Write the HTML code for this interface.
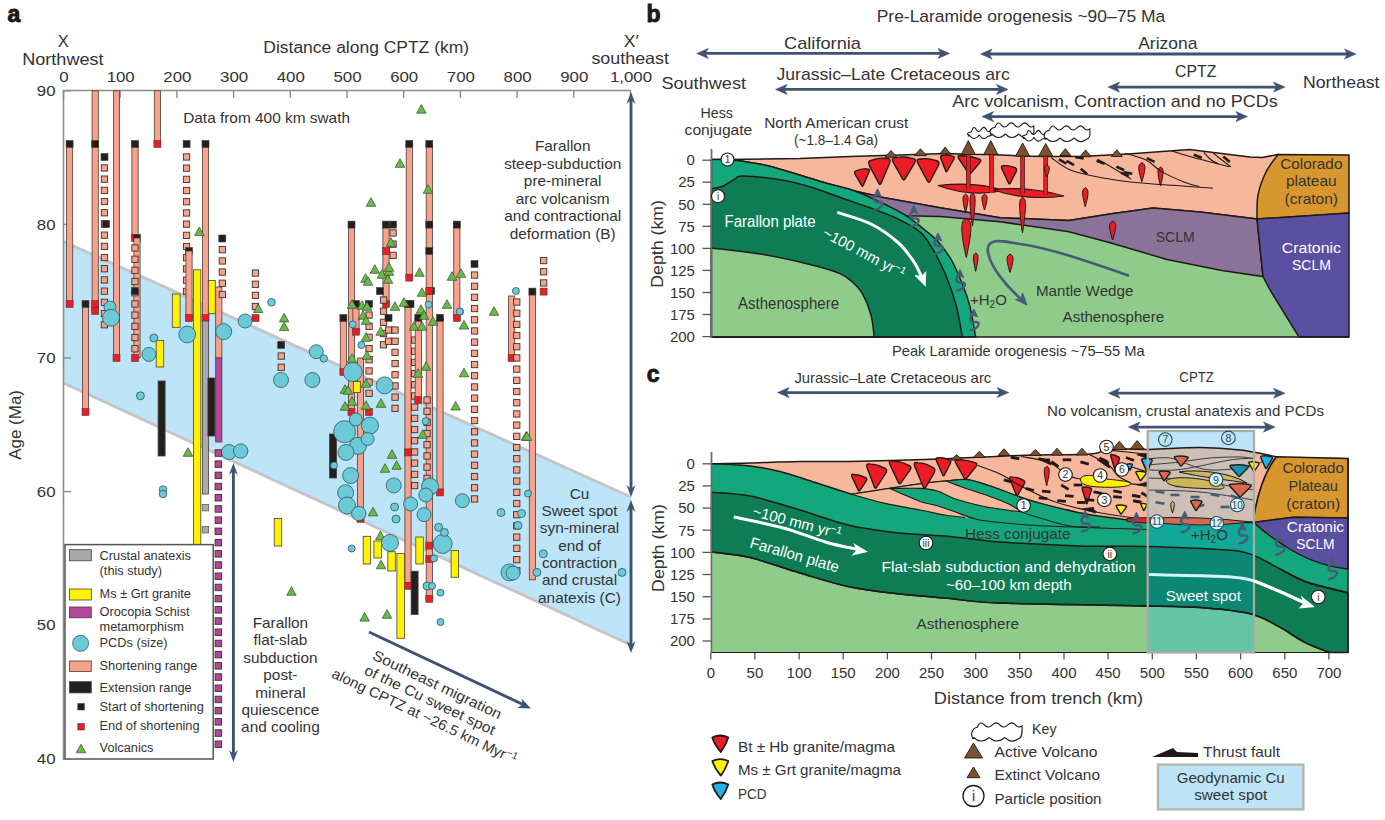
<!DOCTYPE html>
<html><head><meta charset="utf-8"><style>
html,body{margin:0;padding:0;background:#fff;width:1385px;height:820px;overflow:hidden}
svg{display:block}
text{font-family:"Liberation Sans", sans-serif}
</style></head><body>
<svg width="1385" height="820" viewBox="0 0 1385 820">
<rect width="1385" height="820" fill="#fff"/>
<text x="7.6" y="22.2" font-size="23" text-anchor="start" fill="#1a1a1a" font-weight="bold"  stroke="#1a1a1a" stroke-width="0.9">a</text>
<path d="M63.5,241.5 L631,497 L631,645 L63.5,383 Z" fill="#bde5f7"/>
<line x1="63.5" y1="241.5" x2="631" y2="497" stroke="#c3c6c8" stroke-width="3"/>
<line x1="63.5" y1="383" x2="631" y2="645" stroke="#c3c6c8" stroke-width="3"/>
<line x1="63.5" y1="90.5" x2="631" y2="90.5" stroke="#8c8c8c" stroke-width="1.6"/>
<line x1="63.5" y1="90" x2="63.5" y2="760" stroke="#8c8c8c" stroke-width="1.6"/>
<line x1="63.5" y1="90" x2="63.5" y2="98" stroke="#8c8c8c" stroke-width="1.4"/>
<text x="64.0" y="82.0" font-size="14.2" text-anchor="middle" fill="#333333" font-weight="normal" textLength="9.4" lengthAdjust="spacingAndGlyphs" >0</text>
<line x1="120.2" y1="90" x2="120.2" y2="98" stroke="#8c8c8c" stroke-width="1.4"/>
<text x="120.7" y="82.0" font-size="14.2" text-anchor="middle" fill="#333333" font-weight="normal" textLength="28.1" lengthAdjust="spacingAndGlyphs" >100</text>
<line x1="176.9" y1="90" x2="176.9" y2="98" stroke="#8c8c8c" stroke-width="1.4"/>
<text x="177.4" y="82.0" font-size="14.2" text-anchor="middle" fill="#333333" font-weight="normal" textLength="28.1" lengthAdjust="spacingAndGlyphs" >200</text>
<line x1="233.6" y1="90" x2="233.6" y2="98" stroke="#8c8c8c" stroke-width="1.4"/>
<text x="234.1" y="82.0" font-size="14.2" text-anchor="middle" fill="#333333" font-weight="normal" textLength="28.1" lengthAdjust="spacingAndGlyphs" >300</text>
<line x1="290.3" y1="90" x2="290.3" y2="98" stroke="#8c8c8c" stroke-width="1.4"/>
<text x="290.8" y="82.0" font-size="14.2" text-anchor="middle" fill="#333333" font-weight="normal" textLength="28.1" lengthAdjust="spacingAndGlyphs" >400</text>
<line x1="347.0" y1="90" x2="347.0" y2="98" stroke="#8c8c8c" stroke-width="1.4"/>
<text x="347.5" y="82.0" font-size="14.2" text-anchor="middle" fill="#333333" font-weight="normal" textLength="28.1" lengthAdjust="spacingAndGlyphs" >500</text>
<line x1="403.7" y1="90" x2="403.7" y2="98" stroke="#8c8c8c" stroke-width="1.4"/>
<text x="404.2" y="82.0" font-size="14.2" text-anchor="middle" fill="#333333" font-weight="normal" textLength="28.1" lengthAdjust="spacingAndGlyphs" >600</text>
<line x1="460.4" y1="90" x2="460.4" y2="98" stroke="#8c8c8c" stroke-width="1.4"/>
<text x="460.9" y="82.0" font-size="14.2" text-anchor="middle" fill="#333333" font-weight="normal" textLength="28.1" lengthAdjust="spacingAndGlyphs" >700</text>
<line x1="517.1" y1="90" x2="517.1" y2="98" stroke="#8c8c8c" stroke-width="1.4"/>
<text x="517.6" y="82.0" font-size="14.2" text-anchor="middle" fill="#333333" font-weight="normal" textLength="28.1" lengthAdjust="spacingAndGlyphs" >800</text>
<line x1="573.8" y1="90" x2="573.8" y2="98" stroke="#8c8c8c" stroke-width="1.4"/>
<text x="574.3" y="82.0" font-size="14.2" text-anchor="middle" fill="#333333" font-weight="normal" textLength="28.1" lengthAdjust="spacingAndGlyphs" >900</text>
<line x1="630.5" y1="90" x2="630.5" y2="98" stroke="#8c8c8c" stroke-width="1.4"/>
<text x="631.0" y="82.0" font-size="14.2" text-anchor="middle" fill="#333333" font-weight="normal" textLength="42.2" lengthAdjust="spacingAndGlyphs" >1,000</text>
<line x1="63" y1="90.8" x2="71" y2="90.8" stroke="#8c8c8c" stroke-width="1.4"/>
<text x="55.5" y="96.0" font-size="14.2" text-anchor="end" fill="#333333" font-weight="normal" textLength="18.7" lengthAdjust="spacingAndGlyphs" >90</text>
<line x1="63" y1="224.4" x2="71" y2="224.4" stroke="#8c8c8c" stroke-width="1.4"/>
<text x="55.5" y="229.6" font-size="14.2" text-anchor="end" fill="#333333" font-weight="normal" textLength="18.7" lengthAdjust="spacingAndGlyphs" >80</text>
<line x1="63" y1="358.0" x2="71" y2="358.0" stroke="#8c8c8c" stroke-width="1.4"/>
<text x="55.5" y="363.2" font-size="14.2" text-anchor="end" fill="#333333" font-weight="normal" textLength="18.7" lengthAdjust="spacingAndGlyphs" >70</text>
<line x1="63" y1="491.6" x2="71" y2="491.6" stroke="#8c8c8c" stroke-width="1.4"/>
<text x="55.5" y="496.8" font-size="14.2" text-anchor="end" fill="#333333" font-weight="normal" textLength="18.7" lengthAdjust="spacingAndGlyphs" >60</text>
<line x1="63" y1="625.2" x2="71" y2="625.2" stroke="#8c8c8c" stroke-width="1.4"/>
<text x="55.5" y="630.4" font-size="14.2" text-anchor="end" fill="#333333" font-weight="normal" textLength="18.7" lengthAdjust="spacingAndGlyphs" >50</text>
<line x1="63" y1="758.8" x2="71" y2="758.8" stroke="#8c8c8c" stroke-width="1.4"/>
<text x="55.5" y="764.0" font-size="14.2" text-anchor="end" fill="#333333" font-weight="normal" textLength="18.7" lengthAdjust="spacingAndGlyphs" >40</text>
<text x="21.5" y="424.9" font-size="16" text-anchor="middle" fill="#333333" font-weight="normal" textLength="69.7" lengthAdjust="spacingAndGlyphs" transform="rotate(-90 21.5 424.9)">Age (Ma)</text>
<text x="63.2" y="46.8" font-size="16.5" text-anchor="middle" fill="#333333" font-weight="normal"  >X</text>
<text x="62.9" y="65.0" font-size="16.5" text-anchor="middle" fill="#333333" font-weight="normal" textLength="81.4" lengthAdjust="spacingAndGlyphs" >Northwest</text>
<text x="366.2" y="52.7" font-size="17.3" text-anchor="middle" fill="#333333" font-weight="normal" textLength="205.7" lengthAdjust="spacingAndGlyphs" >Distance along CPTZ (km)</text>
<text x="631.2" y="46.6" font-size="16.5" text-anchor="middle" fill="#333333" font-weight="normal" textLength="15.0" lengthAdjust="spacingAndGlyphs" >X′</text>
<text x="630.2" y="63.6" font-size="16.5" text-anchor="middle" fill="#333333" font-weight="normal" textLength="77.6" lengthAdjust="spacingAndGlyphs" >southeast</text>
<text x="183.2" y="122.7" font-size="14.2" text-anchor="start" fill="#333333" font-weight="normal" textLength="166.8" lengthAdjust="spacingAndGlyphs" >Data from 400 km swath</text>
<rect x="66.5" y="144.0" width="6.2" height="160.0" fill="#f6a28c" stroke="#4a3d3a" stroke-width="0.8"/>
<rect x="66.1" y="140.5" width="7" height="7" fill="#231f20" stroke="#4a3d3a" stroke-width="0.6"/>
<rect x="66.1" y="300.5" width="7" height="7" fill="#ed1c24" stroke="#4a3d3a" stroke-width="0.6"/>
<rect x="82.4" y="304.0" width="6.2" height="108.0" fill="#f6a28c" stroke="#4a3d3a" stroke-width="0.8"/>
<rect x="82.0" y="300.5" width="7" height="7" fill="#231f20" stroke="#4a3d3a" stroke-width="0.6"/>
<rect x="82.0" y="408.5" width="7" height="7" fill="#ed1c24" stroke="#4a3d3a" stroke-width="0.6"/>
<rect x="92.1" y="90.8" width="6.2" height="220.2" fill="#f6a28c" stroke="#4a3d3a" stroke-width="0.8"/>
<rect x="91.7" y="140.5" width="7" height="7" fill="#231f20" stroke="#4a3d3a" stroke-width="0.6"/>
<rect x="91.7" y="300.5" width="7" height="7" fill="#ed1c24" stroke="#4a3d3a" stroke-width="0.6"/>
<rect x="91.7" y="307.5" width="7" height="7" fill="#ed1c24" stroke="#4a3d3a" stroke-width="0.6"/>
<rect x="101.3" y="164.8" width="6.3" height="6.3" fill="#f6a28c" stroke="#3a2f2c" stroke-width="0.9"/>
<rect x="101.3" y="176.0" width="6.3" height="6.3" fill="#f6a28c" stroke="#3a2f2c" stroke-width="0.9"/>
<rect x="101.3" y="187.2" width="6.3" height="6.3" fill="#f6a28c" stroke="#3a2f2c" stroke-width="0.9"/>
<rect x="101.3" y="198.4" width="6.3" height="6.3" fill="#f6a28c" stroke="#3a2f2c" stroke-width="0.9"/>
<rect x="101.3" y="209.6" width="6.3" height="6.3" fill="#f6a28c" stroke="#3a2f2c" stroke-width="0.9"/>
<rect x="101.3" y="220.8" width="6.3" height="6.3" fill="#f6a28c" stroke="#3a2f2c" stroke-width="0.9"/>
<rect x="101.3" y="232.0" width="6.3" height="6.3" fill="#f6a28c" stroke="#3a2f2c" stroke-width="0.9"/>
<rect x="101.3" y="243.2" width="6.3" height="6.3" fill="#f6a28c" stroke="#3a2f2c" stroke-width="0.9"/>
<rect x="101.3" y="254.4" width="6.3" height="6.3" fill="#f6a28c" stroke="#3a2f2c" stroke-width="0.9"/>
<rect x="101.3" y="265.6" width="6.3" height="6.3" fill="#f6a28c" stroke="#3a2f2c" stroke-width="0.9"/>
<rect x="101.3" y="276.8" width="6.3" height="6.3" fill="#f6a28c" stroke="#3a2f2c" stroke-width="0.9"/>
<rect x="101.3" y="288.0" width="6.3" height="6.3" fill="#f6a28c" stroke="#3a2f2c" stroke-width="0.9"/>
<rect x="101.3" y="299.2" width="6.3" height="6.3" fill="#f6a28c" stroke="#3a2f2c" stroke-width="0.9"/>
<rect x="101.3" y="310.4" width="6.3" height="6.3" fill="#f6a28c" stroke="#3a2f2c" stroke-width="0.9"/>
<rect x="101.3" y="321.6" width="6.3" height="6.3" fill="#f6a28c" stroke="#3a2f2c" stroke-width="0.9"/>
<rect x="101.0" y="153.5" width="7" height="7" fill="#231f20" stroke="#4a3d3a" stroke-width="0.6"/>
<rect x="102.5" y="220.5" width="7" height="7" fill="#231f20" stroke="#4a3d3a" stroke-width="0.6"/>
<rect x="113.4" y="90.8" width="6.2" height="267.2" fill="#f6a28c" stroke="#4a3d3a" stroke-width="0.8"/>
<rect x="113.0" y="354.5" width="7" height="7" fill="#ed1c24" stroke="#4a3d3a" stroke-width="0.6"/>
<rect x="131.9" y="144.0" width="6.2" height="94.0" fill="#f6a28c" stroke="#4a3d3a" stroke-width="0.8"/>
<rect x="131.5" y="140.5" width="7" height="7" fill="#231f20" stroke="#4a3d3a" stroke-width="0.6"/>
<rect x="131.5" y="234.5" width="7" height="7" fill="#ed1c24" stroke="#4a3d3a" stroke-width="0.6"/>
<rect x="133.5" y="234.5" width="7" height="7" fill="#231f20" stroke="#4a3d3a" stroke-width="0.6"/>
<rect x="133.9" y="238.0" width="6.2" height="120.0" fill="#f6a28c" stroke="#4a3d3a" stroke-width="0.8"/>
<rect x="131.8" y="244.8" width="6.3" height="6.3" fill="#f6a28c" stroke="#3a2f2c" stroke-width="0.9"/>
<rect x="131.8" y="256.1" width="6.3" height="6.3" fill="#f6a28c" stroke="#3a2f2c" stroke-width="0.9"/>
<rect x="131.8" y="267.2" width="6.3" height="6.3" fill="#f6a28c" stroke="#3a2f2c" stroke-width="0.9"/>
<rect x="131.8" y="278.4" width="6.3" height="6.3" fill="#f6a28c" stroke="#3a2f2c" stroke-width="0.9"/>
<rect x="131.8" y="289.6" width="6.3" height="6.3" fill="#f6a28c" stroke="#3a2f2c" stroke-width="0.9"/>
<rect x="131.8" y="300.8" width="6.3" height="6.3" fill="#f6a28c" stroke="#3a2f2c" stroke-width="0.9"/>
<rect x="131.8" y="312.0" width="6.3" height="6.3" fill="#f6a28c" stroke="#3a2f2c" stroke-width="0.9"/>
<rect x="131.8" y="323.2" width="6.3" height="6.3" fill="#f6a28c" stroke="#3a2f2c" stroke-width="0.9"/>
<rect x="131.8" y="334.4" width="6.3" height="6.3" fill="#f6a28c" stroke="#3a2f2c" stroke-width="0.9"/>
<rect x="131.8" y="345.6" width="6.3" height="6.3" fill="#f6a28c" stroke="#3a2f2c" stroke-width="0.9"/>
<rect x="131.5" y="287.5" width="7" height="7" fill="#231f20" stroke="#4a3d3a" stroke-width="0.6"/>
<rect x="131.5" y="354.5" width="7" height="7" fill="#ed1c24" stroke="#4a3d3a" stroke-width="0.6"/>
<rect x="154.3" y="90.8" width="6.2" height="53.2" fill="#f6a28c" stroke="#4a3d3a" stroke-width="0.8"/>
<rect x="153.9" y="140.5" width="7" height="7" fill="#ed1c24" stroke="#4a3d3a" stroke-width="0.6"/>
<rect x="183.4" y="153.8" width="6.3" height="6.3" fill="#f6a28c" stroke="#3a2f2c" stroke-width="0.9"/>
<rect x="183.4" y="165.0" width="6.3" height="6.3" fill="#f6a28c" stroke="#3a2f2c" stroke-width="0.9"/>
<rect x="183.4" y="176.2" width="6.3" height="6.3" fill="#f6a28c" stroke="#3a2f2c" stroke-width="0.9"/>
<rect x="183.4" y="187.4" width="6.3" height="6.3" fill="#f6a28c" stroke="#3a2f2c" stroke-width="0.9"/>
<rect x="183.4" y="198.6" width="6.3" height="6.3" fill="#f6a28c" stroke="#3a2f2c" stroke-width="0.9"/>
<rect x="183.4" y="209.8" width="6.3" height="6.3" fill="#f6a28c" stroke="#3a2f2c" stroke-width="0.9"/>
<rect x="183.4" y="221.0" width="6.3" height="6.3" fill="#f6a28c" stroke="#3a2f2c" stroke-width="0.9"/>
<rect x="183.4" y="232.2" width="6.3" height="6.3" fill="#f6a28c" stroke="#3a2f2c" stroke-width="0.9"/>
<rect x="183.4" y="243.4" width="6.3" height="6.3" fill="#f6a28c" stroke="#3a2f2c" stroke-width="0.9"/>
<rect x="183.4" y="254.6" width="6.3" height="6.3" fill="#f6a28c" stroke="#3a2f2c" stroke-width="0.9"/>
<rect x="183.4" y="265.8" width="6.3" height="6.3" fill="#f6a28c" stroke="#3a2f2c" stroke-width="0.9"/>
<rect x="183.4" y="277.0" width="6.3" height="6.3" fill="#f6a28c" stroke="#3a2f2c" stroke-width="0.9"/>
<rect x="183.4" y="288.2" width="6.3" height="6.3" fill="#f6a28c" stroke="#3a2f2c" stroke-width="0.9"/>
<rect x="183.1" y="140.5" width="7" height="7" fill="#231f20" stroke="#4a3d3a" stroke-width="0.6"/>
<rect x="185.5" y="247.5" width="7" height="7" fill="#231f20" stroke="#4a3d3a" stroke-width="0.6"/>
<rect x="185.9" y="251.0" width="6.2" height="67.0" fill="#f6a28c" stroke="#4a3d3a" stroke-width="0.8"/>
<rect x="185.5" y="314.5" width="7" height="7" fill="#ed1c24" stroke="#4a3d3a" stroke-width="0.6"/>
<rect x="202.4" y="143.8" width="6.2" height="174.2" fill="#f6a28c" stroke="#4a3d3a" stroke-width="0.8"/>
<rect x="202.0" y="140.5" width="7" height="7" fill="#231f20" stroke="#4a3d3a" stroke-width="0.6"/>
<rect x="202.0" y="314.5" width="7" height="7" fill="#ed1c24" stroke="#4a3d3a" stroke-width="0.6"/>
<rect x="202.4" y="321.0" width="6.2" height="173.0" fill="#a7a9ac" stroke="#4a3d3a" stroke-width="0.8"/>
<rect x="202.2" y="504.4" width="6.5" height="6.5" fill="#a7a9ac" stroke="#4a3d3a" stroke-width="0.6"/>
<rect x="202.2" y="526.5" width="6.5" height="6.5" fill="#a7a9ac" stroke="#4a3d3a" stroke-width="0.6"/>
<rect x="215.7" y="287.0" width="6.2" height="71.0" fill="#f6a28c" stroke="#4a3d3a" stroke-width="0.8"/>
<rect x="215.7" y="358.0" width="6.2" height="84.0" fill="#b5479a" stroke="#4a3d3a" stroke-width="0.8"/>
<rect x="219.2" y="246.5" width="6.3" height="6.3" fill="#f6a28c" stroke="#3a2f2c" stroke-width="0.9"/>
<rect x="219.2" y="257.8" width="6.3" height="6.3" fill="#f6a28c" stroke="#3a2f2c" stroke-width="0.9"/>
<rect x="219.2" y="268.9" width="6.3" height="6.3" fill="#f6a28c" stroke="#3a2f2c" stroke-width="0.9"/>
<rect x="219.2" y="280.1" width="6.3" height="6.3" fill="#f6a28c" stroke="#3a2f2c" stroke-width="0.9"/>
<rect x="219.2" y="291.3" width="6.3" height="6.3" fill="#f6a28c" stroke="#3a2f2c" stroke-width="0.9"/>
<rect x="218.8" y="235.0" width="7" height="7" fill="#231f20" stroke="#4a3d3a" stroke-width="0.6"/>
<rect x="215.1" y="449.8" width="6.5" height="6.5" fill="#b5479a" stroke="#3a2f2c" stroke-width="0.9"/>
<rect x="215.1" y="460.9" width="6.5" height="6.5" fill="#b5479a" stroke="#3a2f2c" stroke-width="0.9"/>
<rect x="215.1" y="472.1" width="6.5" height="6.5" fill="#b5479a" stroke="#3a2f2c" stroke-width="0.9"/>
<rect x="215.1" y="483.3" width="6.5" height="6.5" fill="#b5479a" stroke="#3a2f2c" stroke-width="0.9"/>
<rect x="215.1" y="494.5" width="6.5" height="6.5" fill="#b5479a" stroke="#3a2f2c" stroke-width="0.9"/>
<rect x="215.1" y="505.7" width="6.5" height="6.5" fill="#b5479a" stroke="#3a2f2c" stroke-width="0.9"/>
<rect x="215.1" y="516.9" width="6.5" height="6.5" fill="#b5479a" stroke="#3a2f2c" stroke-width="0.9"/>
<rect x="215.1" y="528.1" width="6.5" height="6.5" fill="#b5479a" stroke="#3a2f2c" stroke-width="0.9"/>
<rect x="215.1" y="539.4" width="6.5" height="6.5" fill="#b5479a" stroke="#3a2f2c" stroke-width="0.9"/>
<rect x="215.1" y="550.6" width="6.5" height="6.5" fill="#b5479a" stroke="#3a2f2c" stroke-width="0.9"/>
<rect x="215.1" y="561.8" width="6.5" height="6.5" fill="#b5479a" stroke="#3a2f2c" stroke-width="0.9"/>
<rect x="215.1" y="573.0" width="6.5" height="6.5" fill="#b5479a" stroke="#3a2f2c" stroke-width="0.9"/>
<rect x="215.1" y="584.2" width="6.5" height="6.5" fill="#b5479a" stroke="#3a2f2c" stroke-width="0.9"/>
<rect x="215.1" y="595.4" width="6.5" height="6.5" fill="#b5479a" stroke="#3a2f2c" stroke-width="0.9"/>
<rect x="215.1" y="606.6" width="6.5" height="6.5" fill="#b5479a" stroke="#3a2f2c" stroke-width="0.9"/>
<rect x="215.1" y="617.8" width="6.5" height="6.5" fill="#b5479a" stroke="#3a2f2c" stroke-width="0.9"/>
<rect x="215.1" y="629.0" width="6.5" height="6.5" fill="#b5479a" stroke="#3a2f2c" stroke-width="0.9"/>
<rect x="215.1" y="640.2" width="6.5" height="6.5" fill="#b5479a" stroke="#3a2f2c" stroke-width="0.9"/>
<rect x="215.1" y="651.4" width="6.5" height="6.5" fill="#b5479a" stroke="#3a2f2c" stroke-width="0.9"/>
<rect x="215.1" y="662.6" width="6.5" height="6.5" fill="#b5479a" stroke="#3a2f2c" stroke-width="0.9"/>
<rect x="215.1" y="673.8" width="6.5" height="6.5" fill="#b5479a" stroke="#3a2f2c" stroke-width="0.9"/>
<rect x="215.1" y="685.0" width="6.5" height="6.5" fill="#b5479a" stroke="#3a2f2c" stroke-width="0.9"/>
<rect x="215.1" y="696.2" width="6.5" height="6.5" fill="#b5479a" stroke="#3a2f2c" stroke-width="0.9"/>
<rect x="215.1" y="707.4" width="6.5" height="6.5" fill="#b5479a" stroke="#3a2f2c" stroke-width="0.9"/>
<rect x="215.1" y="718.6" width="6.5" height="6.5" fill="#b5479a" stroke="#3a2f2c" stroke-width="0.9"/>
<rect x="215.1" y="729.8" width="6.5" height="6.5" fill="#b5479a" stroke="#3a2f2c" stroke-width="0.9"/>
<rect x="215.1" y="741.0" width="6.5" height="6.5" fill="#b5479a" stroke="#3a2f2c" stroke-width="0.9"/>
<rect x="193.4" y="269.8" width="7.4" height="275.2" fill="#fff200" stroke="#4a3d3a" stroke-width="0.8"/>
<rect x="208.3" y="280.5" width="7" height="33.2" fill="#fff200" stroke="#4a3d3a" stroke-width="0.8"/>
<rect x="207.9" y="378.0" width="7" height="58.0" fill="#231f20" stroke="#4a3d3a" stroke-width="0.8"/>
<rect x="172.3" y="294.0" width="7.8" height="33.3" fill="#fff200" stroke="#4a3d3a" stroke-width="0.8"/>
<rect x="156.2" y="340.5" width="7.5" height="26.5" fill="#fff200" stroke="#4a3d3a" stroke-width="0.8"/>
<rect x="158.1" y="381.0" width="7" height="75.0" fill="#231f20" stroke="#4a3d3a" stroke-width="0.8"/>
<rect x="274.2" y="518.5" width="7.5" height="27.5" fill="#fff200" stroke="#4a3d3a" stroke-width="0.8"/>
<rect x="252.3" y="269.9" width="6.3" height="6.3" fill="#f6a28c" stroke="#3a2f2c" stroke-width="0.9"/>
<rect x="252.3" y="281.1" width="6.3" height="6.3" fill="#f6a28c" stroke="#3a2f2c" stroke-width="0.9"/>
<rect x="252.3" y="292.2" width="6.3" height="6.3" fill="#f6a28c" stroke="#3a2f2c" stroke-width="0.9"/>
<rect x="252.3" y="303.4" width="6.3" height="6.3" fill="#f6a28c" stroke="#3a2f2c" stroke-width="0.9"/>
<rect x="252.0" y="314.5" width="7" height="7" fill="#ed1c24" stroke="#4a3d3a" stroke-width="0.6"/>
<rect x="277.7" y="341.4" width="7" height="7" fill="#231f20" stroke="#4a3d3a" stroke-width="0.6"/>
<rect x="278.1" y="352.9" width="6.3" height="6.3" fill="#f6a28c" stroke="#3a2f2c" stroke-width="0.9"/>
<rect x="278.1" y="364.1" width="6.3" height="6.3" fill="#f6a28c" stroke="#3a2f2c" stroke-width="0.9"/>
<circle cx="110.0" cy="307.0" r="6" fill="#6ccad8" stroke="#2c5560" stroke-width="0.8"/>
<circle cx="111.0" cy="317.8" r="8.5" fill="#6ccad8" stroke="#2c5560" stroke-width="0.8"/>
<circle cx="153.8" cy="338.0" r="4" fill="#6ccad8" stroke="#2c5560" stroke-width="0.8"/>
<circle cx="149.0" cy="354.4" r="7" fill="#6ccad8" stroke="#2c5560" stroke-width="0.8"/>
<circle cx="187.2" cy="334.5" r="8.4" fill="#6ccad8" stroke="#2c5560" stroke-width="0.8"/>
<circle cx="223.7" cy="331.6" r="8" fill="#6ccad8" stroke="#2c5560" stroke-width="0.8"/>
<circle cx="245.1" cy="321.0" r="7" fill="#6ccad8" stroke="#2c5560" stroke-width="0.8"/>
<circle cx="271.5" cy="302.3" r="3.8" fill="#6ccad8" stroke="#2c5560" stroke-width="0.8"/>
<circle cx="316.3" cy="351.7" r="7" fill="#6ccad8" stroke="#2c5560" stroke-width="0.8"/>
<circle cx="323.8" cy="358.5" r="3.7" fill="#6ccad8" stroke="#2c5560" stroke-width="0.8"/>
<circle cx="140.4" cy="395.8" r="4" fill="#6ccad8" stroke="#2c5560" stroke-width="0.8"/>
<circle cx="229.0" cy="452.0" r="7.5" fill="#6ccad8" stroke="#2c5560" stroke-width="0.8"/>
<circle cx="240.7" cy="451.0" r="7.2" fill="#6ccad8" stroke="#2c5560" stroke-width="0.8"/>
<circle cx="163.0" cy="489.5" r="3.8" fill="#6ccad8" stroke="#2c5560" stroke-width="0.8"/>
<circle cx="163.0" cy="494.0" r="3.8" fill="#6ccad8" stroke="#2c5560" stroke-width="0.8"/>
<circle cx="281.0" cy="380.0" r="7.5" fill="#6ccad8" stroke="#2c5560" stroke-width="0.8"/>
<circle cx="312.4" cy="380.0" r="7.5" fill="#6ccad8" stroke="#2c5560" stroke-width="0.8"/>
<path d="M199.3,227.0 L204.1,235.6 L194.6,235.6 Z" fill="#6ab94a" stroke="#2f4f2a" stroke-width="0.7"/>
<path d="M258.2,303.9 L262.9,312.5 L253.4,312.5 Z" fill="#6ab94a" stroke="#2f4f2a" stroke-width="0.7"/>
<path d="M284.1,313.3 L288.9,321.9 L279.4,321.9 Z" fill="#6ab94a" stroke="#2f4f2a" stroke-width="0.7"/>
<path d="M284.1,322.0 L288.9,330.6 L279.4,330.6 Z" fill="#6ab94a" stroke="#2f4f2a" stroke-width="0.7"/>
<path d="M188.0,447.7 L192.8,456.3 L183.2,456.3 Z" fill="#6ab94a" stroke="#2f4f2a" stroke-width="0.7"/>
<path d="M291.5,586.7 L296.2,595.3 L286.8,595.3 Z" fill="#6ab94a" stroke="#2f4f2a" stroke-width="0.7"/>
<rect x="348.4" y="224.6" width="6.2" height="187.4" fill="#f6a28c" stroke="#4a3d3a" stroke-width="0.8"/>
<rect x="348.0" y="221.1" width="7" height="7" fill="#231f20" stroke="#4a3d3a" stroke-width="0.6"/>
<rect x="348.0" y="408.5" width="7" height="7" fill="#ed1c24" stroke="#4a3d3a" stroke-width="0.6"/>
<rect x="340.3" y="318.0" width="6.2" height="54.0" fill="#f6a28c" stroke="#4a3d3a" stroke-width="0.8"/>
<rect x="339.9" y="314.5" width="7" height="7" fill="#231f20" stroke="#4a3d3a" stroke-width="0.6"/>
<rect x="339.9" y="368.5" width="7" height="7" fill="#ed1c24" stroke="#4a3d3a" stroke-width="0.6"/>
<rect x="357.4" y="358.0" width="6.2" height="160.8" fill="#f6a28c" stroke="#4a3d3a" stroke-width="0.8"/>
<rect x="357.0" y="515.3" width="7" height="7" fill="#ed1c24" stroke="#4a3d3a" stroke-width="0.6"/>
<rect x="352.9" y="304.0" width="6.2" height="27.7" fill="#f6a28c" stroke="#4a3d3a" stroke-width="0.8"/>
<rect x="352.5" y="300.5" width="7" height="7" fill="#231f20" stroke="#4a3d3a" stroke-width="0.6"/>
<rect x="352.5" y="328.2" width="7" height="7" fill="#ed1c24" stroke="#4a3d3a" stroke-width="0.6"/>
<rect x="382.9" y="224.6" width="6.2" height="79.4" fill="#f6a28c" stroke="#4a3d3a" stroke-width="0.8"/>
<rect x="382.5" y="221.1" width="7" height="7" fill="#231f20" stroke="#4a3d3a" stroke-width="0.6"/>
<rect x="382.5" y="247.5" width="7" height="7" fill="#ed1c24" stroke="#4a3d3a" stroke-width="0.6"/>
<rect x="382.5" y="300.5" width="7" height="7" fill="#ed1c24" stroke="#4a3d3a" stroke-width="0.6"/>
<rect x="389.9" y="229.8" width="6.3" height="6.3" fill="#f6a28c" stroke="#3a2f2c" stroke-width="0.9"/>
<rect x="389.9" y="241.0" width="6.3" height="6.3" fill="#f6a28c" stroke="#3a2f2c" stroke-width="0.9"/>
<rect x="389.9" y="252.2" width="6.3" height="6.3" fill="#f6a28c" stroke="#3a2f2c" stroke-width="0.9"/>
<rect x="389.5" y="221.1" width="7" height="7" fill="#231f20" stroke="#4a3d3a" stroke-width="0.6"/>
<rect x="365.9" y="311.9" width="6.3" height="6.3" fill="#f6a28c" stroke="#3a2f2c" stroke-width="0.9"/>
<rect x="365.9" y="323.1" width="6.3" height="6.3" fill="#f6a28c" stroke="#3a2f2c" stroke-width="0.9"/>
<rect x="365.9" y="334.2" width="6.3" height="6.3" fill="#f6a28c" stroke="#3a2f2c" stroke-width="0.9"/>
<rect x="365.9" y="345.4" width="6.3" height="6.3" fill="#f6a28c" stroke="#3a2f2c" stroke-width="0.9"/>
<rect x="365.9" y="356.6" width="6.3" height="6.3" fill="#f6a28c" stroke="#3a2f2c" stroke-width="0.9"/>
<rect x="365.9" y="367.8" width="6.3" height="6.3" fill="#f6a28c" stroke="#3a2f2c" stroke-width="0.9"/>
<rect x="365.9" y="379.0" width="6.3" height="6.3" fill="#f6a28c" stroke="#3a2f2c" stroke-width="0.9"/>
<rect x="365.9" y="390.2" width="6.3" height="6.3" fill="#f6a28c" stroke="#3a2f2c" stroke-width="0.9"/>
<rect x="365.5" y="300.5" width="7" height="7" fill="#231f20" stroke="#4a3d3a" stroke-width="0.6"/>
<rect x="365.5" y="408.5" width="7" height="7" fill="#ed1c24" stroke="#4a3d3a" stroke-width="0.6"/>
<rect x="376.5" y="287.5" width="7" height="7" fill="#231f20" stroke="#4a3d3a" stroke-width="0.6"/>
<rect x="380.4" y="296.9" width="6.3" height="6.3" fill="#f6a28c" stroke="#3a2f2c" stroke-width="0.9"/>
<rect x="380.4" y="308.1" width="6.3" height="6.3" fill="#f6a28c" stroke="#3a2f2c" stroke-width="0.9"/>
<rect x="380.4" y="319.2" width="6.3" height="6.3" fill="#f6a28c" stroke="#3a2f2c" stroke-width="0.9"/>
<rect x="380.4" y="330.4" width="6.3" height="6.3" fill="#f6a28c" stroke="#3a2f2c" stroke-width="0.9"/>
<rect x="380.4" y="341.6" width="6.3" height="6.3" fill="#f6a28c" stroke="#3a2f2c" stroke-width="0.9"/>
<rect x="385.4" y="326.9" width="6.3" height="6.3" fill="#f6a28c" stroke="#3a2f2c" stroke-width="0.9"/>
<rect x="385.4" y="338.1" width="6.3" height="6.3" fill="#f6a28c" stroke="#3a2f2c" stroke-width="0.9"/>
<rect x="385.0" y="314.3" width="7" height="7" fill="#231f20" stroke="#4a3d3a" stroke-width="0.6"/>
<rect x="391.9" y="326.9" width="6.3" height="6.3" fill="#f6a28c" stroke="#3a2f2c" stroke-width="0.9"/>
<rect x="391.9" y="338.1" width="6.3" height="6.3" fill="#f6a28c" stroke="#3a2f2c" stroke-width="0.9"/>
<rect x="391.9" y="349.2" width="6.3" height="6.3" fill="#f6a28c" stroke="#3a2f2c" stroke-width="0.9"/>
<rect x="391.9" y="360.4" width="6.3" height="6.3" fill="#f6a28c" stroke="#3a2f2c" stroke-width="0.9"/>
<rect x="391.9" y="371.6" width="6.3" height="6.3" fill="#f6a28c" stroke="#3a2f2c" stroke-width="0.9"/>
<rect x="391.9" y="382.8" width="6.3" height="6.3" fill="#f6a28c" stroke="#3a2f2c" stroke-width="0.9"/>
<rect x="391.9" y="394.0" width="6.3" height="6.3" fill="#f6a28c" stroke="#3a2f2c" stroke-width="0.9"/>
<rect x="391.9" y="405.2" width="6.3" height="6.3" fill="#f6a28c" stroke="#3a2f2c" stroke-width="0.9"/>
<rect x="404.9" y="304.0" width="6.2" height="281.8" fill="#f6a28c" stroke="#4a3d3a" stroke-width="0.8"/>
<rect x="404.5" y="300.5" width="7" height="7" fill="#231f20" stroke="#4a3d3a" stroke-width="0.6"/>
<rect x="407.0" y="300.5" width="7" height="7" fill="#231f20" stroke="#4a3d3a" stroke-width="0.6"/>
<rect x="404.5" y="448.9" width="7" height="7" fill="#ed1c24" stroke="#4a3d3a" stroke-width="0.6"/>
<rect x="404.5" y="582.3" width="7" height="7" fill="#ed1c24" stroke="#4a3d3a" stroke-width="0.6"/>
<rect x="411.5" y="336.9" width="6.3" height="6.3" fill="#f6a28c" stroke="#3a2f2c" stroke-width="0.9"/>
<rect x="411.5" y="348.1" width="6.3" height="6.3" fill="#f6a28c" stroke="#3a2f2c" stroke-width="0.9"/>
<rect x="411.5" y="359.2" width="6.3" height="6.3" fill="#f6a28c" stroke="#3a2f2c" stroke-width="0.9"/>
<rect x="411.5" y="370.4" width="6.3" height="6.3" fill="#f6a28c" stroke="#3a2f2c" stroke-width="0.9"/>
<rect x="411.5" y="381.6" width="6.3" height="6.3" fill="#f6a28c" stroke="#3a2f2c" stroke-width="0.9"/>
<rect x="411.5" y="392.8" width="6.3" height="6.3" fill="#f6a28c" stroke="#3a2f2c" stroke-width="0.9"/>
<rect x="411.5" y="404.0" width="6.3" height="6.3" fill="#f6a28c" stroke="#3a2f2c" stroke-width="0.9"/>
<rect x="411.5" y="415.2" width="6.3" height="6.3" fill="#f6a28c" stroke="#3a2f2c" stroke-width="0.9"/>
<rect x="411.5" y="426.4" width="6.3" height="6.3" fill="#f6a28c" stroke="#3a2f2c" stroke-width="0.9"/>
<rect x="411.5" y="437.6" width="6.3" height="6.3" fill="#f6a28c" stroke="#3a2f2c" stroke-width="0.9"/>
<rect x="411.5" y="448.8" width="6.3" height="6.3" fill="#f6a28c" stroke="#3a2f2c" stroke-width="0.9"/>
<rect x="411.5" y="460.0" width="6.3" height="6.3" fill="#f6a28c" stroke="#3a2f2c" stroke-width="0.9"/>
<rect x="411.5" y="471.2" width="6.3" height="6.3" fill="#f6a28c" stroke="#3a2f2c" stroke-width="0.9"/>
<rect x="411.5" y="482.4" width="6.3" height="6.3" fill="#f6a28c" stroke="#3a2f2c" stroke-width="0.9"/>
<rect x="415.2" y="317.8" width="6.2" height="82.2" fill="#f6a28c" stroke="#4a3d3a" stroke-width="0.8"/>
<rect x="414.8" y="314.3" width="7" height="7" fill="#231f20" stroke="#4a3d3a" stroke-width="0.6"/>
<rect x="414.8" y="396.5" width="7" height="7" fill="#ed1c24" stroke="#4a3d3a" stroke-width="0.6"/>
<rect x="406.2" y="143.9" width="6.2" height="133.7" fill="#f6a28c" stroke="#4a3d3a" stroke-width="0.8"/>
<rect x="405.8" y="140.4" width="7" height="7" fill="#231f20" stroke="#4a3d3a" stroke-width="0.6"/>
<rect x="405.8" y="274.1" width="7" height="7" fill="#ed1c24" stroke="#4a3d3a" stroke-width="0.6"/>
<rect x="426.2" y="143.9" width="6.2" height="454.9" fill="#f6a28c" stroke="#4a3d3a" stroke-width="0.8"/>
<rect x="425.8" y="140.4" width="7" height="7" fill="#231f20" stroke="#4a3d3a" stroke-width="0.6"/>
<rect x="425.8" y="221.1" width="7" height="7" fill="#231f20" stroke="#4a3d3a" stroke-width="0.6"/>
<rect x="425.8" y="247.5" width="7" height="7" fill="#231f20" stroke="#4a3d3a" stroke-width="0.6"/>
<rect x="427.5" y="287.5" width="7" height="7" fill="#231f20" stroke="#4a3d3a" stroke-width="0.6"/>
<rect x="425.8" y="287.5" width="7" height="7" fill="#ed1c24" stroke="#4a3d3a" stroke-width="0.6"/>
<rect x="425.8" y="542.1" width="7" height="7" fill="#ed1c24" stroke="#4a3d3a" stroke-width="0.6"/>
<rect x="425.8" y="555.5" width="7" height="7" fill="#ed1c24" stroke="#4a3d3a" stroke-width="0.6"/>
<rect x="425.8" y="595.3" width="7" height="7" fill="#ed1c24" stroke="#4a3d3a" stroke-width="0.6"/>
<rect x="423.9" y="396.9" width="6.3" height="6.3" fill="#f6a28c" stroke="#3a2f2c" stroke-width="0.9"/>
<rect x="423.9" y="408.1" width="6.3" height="6.3" fill="#f6a28c" stroke="#3a2f2c" stroke-width="0.9"/>
<rect x="423.9" y="419.2" width="6.3" height="6.3" fill="#f6a28c" stroke="#3a2f2c" stroke-width="0.9"/>
<rect x="423.9" y="430.4" width="6.3" height="6.3" fill="#f6a28c" stroke="#3a2f2c" stroke-width="0.9"/>
<rect x="423.9" y="441.6" width="6.3" height="6.3" fill="#f6a28c" stroke="#3a2f2c" stroke-width="0.9"/>
<rect x="423.9" y="452.8" width="6.3" height="6.3" fill="#f6a28c" stroke="#3a2f2c" stroke-width="0.9"/>
<rect x="423.9" y="464.0" width="6.3" height="6.3" fill="#f6a28c" stroke="#3a2f2c" stroke-width="0.9"/>
<rect x="423.9" y="475.2" width="6.3" height="6.3" fill="#f6a28c" stroke="#3a2f2c" stroke-width="0.9"/>
<rect x="423.9" y="486.4" width="6.3" height="6.3" fill="#f6a28c" stroke="#3a2f2c" stroke-width="0.9"/>
<rect x="436.9" y="317.8" width="6.2" height="174.6" fill="#f6a28c" stroke="#4a3d3a" stroke-width="0.8"/>
<rect x="436.5" y="314.3" width="7" height="7" fill="#231f20" stroke="#4a3d3a" stroke-width="0.6"/>
<rect x="436.5" y="488.9" width="7" height="7" fill="#ed1c24" stroke="#4a3d3a" stroke-width="0.6"/>
<rect x="453.7" y="224.6" width="6.2" height="93.2" fill="#f6a28c" stroke="#4a3d3a" stroke-width="0.8"/>
<rect x="453.3" y="221.1" width="7" height="7" fill="#231f20" stroke="#4a3d3a" stroke-width="0.6"/>
<rect x="453.3" y="314.3" width="7" height="7" fill="#ed1c24" stroke="#4a3d3a" stroke-width="0.6"/>
<rect x="471.4" y="271.9" width="6.3" height="6.3" fill="#f6a28c" stroke="#3a2f2c" stroke-width="0.9"/>
<rect x="471.4" y="283.1" width="6.3" height="6.3" fill="#f6a28c" stroke="#3a2f2c" stroke-width="0.9"/>
<rect x="471.4" y="294.2" width="6.3" height="6.3" fill="#f6a28c" stroke="#3a2f2c" stroke-width="0.9"/>
<rect x="471.4" y="305.4" width="6.3" height="6.3" fill="#f6a28c" stroke="#3a2f2c" stroke-width="0.9"/>
<rect x="471.4" y="316.6" width="6.3" height="6.3" fill="#f6a28c" stroke="#3a2f2c" stroke-width="0.9"/>
<rect x="471.4" y="327.8" width="6.3" height="6.3" fill="#f6a28c" stroke="#3a2f2c" stroke-width="0.9"/>
<rect x="471.4" y="339.0" width="6.3" height="6.3" fill="#f6a28c" stroke="#3a2f2c" stroke-width="0.9"/>
<rect x="471.4" y="350.2" width="6.3" height="6.3" fill="#f6a28c" stroke="#3a2f2c" stroke-width="0.9"/>
<rect x="471.4" y="361.4" width="6.3" height="6.3" fill="#f6a28c" stroke="#3a2f2c" stroke-width="0.9"/>
<rect x="471.4" y="372.6" width="6.3" height="6.3" fill="#f6a28c" stroke="#3a2f2c" stroke-width="0.9"/>
<rect x="471.4" y="383.8" width="6.3" height="6.3" fill="#f6a28c" stroke="#3a2f2c" stroke-width="0.9"/>
<rect x="471.4" y="395.0" width="6.3" height="6.3" fill="#f6a28c" stroke="#3a2f2c" stroke-width="0.9"/>
<rect x="471.4" y="406.2" width="6.3" height="6.3" fill="#f6a28c" stroke="#3a2f2c" stroke-width="0.9"/>
<rect x="471.4" y="417.4" width="6.3" height="6.3" fill="#f6a28c" stroke="#3a2f2c" stroke-width="0.9"/>
<rect x="471.4" y="428.6" width="6.3" height="6.3" fill="#f6a28c" stroke="#3a2f2c" stroke-width="0.9"/>
<rect x="471.4" y="439.8" width="6.3" height="6.3" fill="#f6a28c" stroke="#3a2f2c" stroke-width="0.9"/>
<rect x="471.4" y="451.0" width="6.3" height="6.3" fill="#f6a28c" stroke="#3a2f2c" stroke-width="0.9"/>
<rect x="471.4" y="462.2" width="6.3" height="6.3" fill="#f6a28c" stroke="#3a2f2c" stroke-width="0.9"/>
<rect x="471.4" y="473.4" width="6.3" height="6.3" fill="#f6a28c" stroke="#3a2f2c" stroke-width="0.9"/>
<rect x="471.4" y="484.6" width="6.3" height="6.3" fill="#f6a28c" stroke="#3a2f2c" stroke-width="0.9"/>
<rect x="471.4" y="495.8" width="6.3" height="6.3" fill="#f6a28c" stroke="#3a2f2c" stroke-width="0.9"/>
<rect x="471.0" y="260.5" width="7" height="7" fill="#231f20" stroke="#4a3d3a" stroke-width="0.6"/>
<rect x="508.5" y="296.0" width="6.2" height="62.0" fill="#f6a28c" stroke="#4a3d3a" stroke-width="0.8"/>
<rect x="508.1" y="354.5" width="7" height="7" fill="#ed1c24" stroke="#4a3d3a" stroke-width="0.6"/>
<rect x="513.6" y="298.9" width="6.3" height="6.3" fill="#f6a28c" stroke="#3a2f2c" stroke-width="0.9"/>
<rect x="513.6" y="310.1" width="6.3" height="6.3" fill="#f6a28c" stroke="#3a2f2c" stroke-width="0.9"/>
<rect x="513.6" y="321.2" width="6.3" height="6.3" fill="#f6a28c" stroke="#3a2f2c" stroke-width="0.9"/>
<rect x="513.6" y="332.4" width="6.3" height="6.3" fill="#f6a28c" stroke="#3a2f2c" stroke-width="0.9"/>
<rect x="513.6" y="343.6" width="6.3" height="6.3" fill="#f6a28c" stroke="#3a2f2c" stroke-width="0.9"/>
<rect x="513.6" y="354.8" width="6.3" height="6.3" fill="#f6a28c" stroke="#3a2f2c" stroke-width="0.9"/>
<rect x="513.6" y="366.0" width="6.3" height="6.3" fill="#f6a28c" stroke="#3a2f2c" stroke-width="0.9"/>
<rect x="513.6" y="377.2" width="6.3" height="6.3" fill="#f6a28c" stroke="#3a2f2c" stroke-width="0.9"/>
<rect x="513.6" y="388.4" width="6.3" height="6.3" fill="#f6a28c" stroke="#3a2f2c" stroke-width="0.9"/>
<rect x="513.6" y="399.6" width="6.3" height="6.3" fill="#f6a28c" stroke="#3a2f2c" stroke-width="0.9"/>
<rect x="513.6" y="410.8" width="6.3" height="6.3" fill="#f6a28c" stroke="#3a2f2c" stroke-width="0.9"/>
<rect x="513.6" y="422.0" width="6.3" height="6.3" fill="#f6a28c" stroke="#3a2f2c" stroke-width="0.9"/>
<rect x="513.6" y="433.2" width="6.3" height="6.3" fill="#f6a28c" stroke="#3a2f2c" stroke-width="0.9"/>
<rect x="513.6" y="444.4" width="6.3" height="6.3" fill="#f6a28c" stroke="#3a2f2c" stroke-width="0.9"/>
<rect x="513.6" y="455.6" width="6.3" height="6.3" fill="#f6a28c" stroke="#3a2f2c" stroke-width="0.9"/>
<rect x="513.6" y="466.8" width="6.3" height="6.3" fill="#f6a28c" stroke="#3a2f2c" stroke-width="0.9"/>
<rect x="513.6" y="478.0" width="6.3" height="6.3" fill="#f6a28c" stroke="#3a2f2c" stroke-width="0.9"/>
<rect x="513.6" y="489.2" width="6.3" height="6.3" fill="#f6a28c" stroke="#3a2f2c" stroke-width="0.9"/>
<rect x="513.6" y="500.4" width="6.3" height="6.3" fill="#f6a28c" stroke="#3a2f2c" stroke-width="0.9"/>
<rect x="513.6" y="511.6" width="6.3" height="6.3" fill="#f6a28c" stroke="#3a2f2c" stroke-width="0.9"/>
<rect x="513.6" y="522.8" width="6.3" height="6.3" fill="#f6a28c" stroke="#3a2f2c" stroke-width="0.9"/>
<rect x="513.6" y="534.0" width="6.3" height="6.3" fill="#f6a28c" stroke="#3a2f2c" stroke-width="0.9"/>
<rect x="513.6" y="545.2" width="6.3" height="6.3" fill="#f6a28c" stroke="#3a2f2c" stroke-width="0.9"/>
<rect x="513.6" y="556.5" width="6.3" height="6.3" fill="#f6a28c" stroke="#3a2f2c" stroke-width="0.9"/>
<rect x="513.6" y="567.7" width="6.3" height="6.3" fill="#f6a28c" stroke="#3a2f2c" stroke-width="0.9"/>
<rect x="529.3" y="291.6" width="6.2" height="288.2" fill="#f6a28c" stroke="#4a3d3a" stroke-width="0.8"/>
<rect x="528.9" y="288.1" width="7" height="7" fill="#231f20" stroke="#4a3d3a" stroke-width="0.6"/>
<rect x="540.5" y="257.4" width="6.3" height="6.3" fill="#f6a28c" stroke="#3a2f2c" stroke-width="0.9"/>
<rect x="540.5" y="268.6" width="6.3" height="6.3" fill="#f6a28c" stroke="#3a2f2c" stroke-width="0.9"/>
<rect x="540.5" y="279.8" width="6.3" height="6.3" fill="#f6a28c" stroke="#3a2f2c" stroke-width="0.9"/>
<rect x="540.1" y="288.1" width="7" height="7" fill="#ed1c24" stroke="#4a3d3a" stroke-width="0.6"/>
<rect x="329.5" y="434.0" width="7" height="44.0" fill="#231f20" stroke="#4a3d3a" stroke-width="0.8"/>
<rect x="353.3" y="381.5" width="7" height="11.0" fill="#fff200" stroke="#4a3d3a" stroke-width="0.8"/>
<rect x="363.2" y="536.3" width="7.5" height="27.7" fill="#fff200" stroke="#4a3d3a" stroke-width="0.8"/>
<rect x="373.9" y="541.0" width="7.5" height="17.0" fill="#fff200" stroke="#4a3d3a" stroke-width="0.8"/>
<rect x="387.8" y="551.7" width="7.5" height="19.3" fill="#fff200" stroke="#4a3d3a" stroke-width="0.8"/>
<rect x="396.9" y="553.4" width="7.5" height="84.9" fill="#fff200" stroke="#4a3d3a" stroke-width="0.8"/>
<rect x="415.8" y="537.0" width="7.5" height="27.0" fill="#fff200" stroke="#4a3d3a" stroke-width="0.8"/>
<rect x="451.1" y="550.5" width="7.5" height="26.8" fill="#fff200" stroke="#4a3d3a" stroke-width="0.8"/>
<rect x="411.1" y="571.2" width="7" height="43.2" fill="#231f20" stroke="#4a3d3a" stroke-width="0.8"/>
<path d="M421.3,104.6 L426.1,113.2 L416.6,113.2 Z" fill="#6ab94a" stroke="#2f4f2a" stroke-width="0.7"/>
<path d="M400.0,158.7 L404.8,167.3 L395.2,167.3 Z" fill="#6ab94a" stroke="#2f4f2a" stroke-width="0.7"/>
<path d="M371.0,197.7 L375.8,206.3 L366.2,206.3 Z" fill="#6ab94a" stroke="#2f4f2a" stroke-width="0.7"/>
<path d="M428.0,184.7 L432.8,193.3 L423.2,193.3 Z" fill="#6ab94a" stroke="#2f4f2a" stroke-width="0.7"/>
<path d="M374.8,264.7 L379.6,273.3 L370.1,273.3 Z" fill="#6ab94a" stroke="#2f4f2a" stroke-width="0.7"/>
<path d="M382.0,269.7 L386.8,278.3 L377.2,278.3 Z" fill="#6ab94a" stroke="#2f4f2a" stroke-width="0.7"/>
<path d="M389.0,266.7 L393.8,275.3 L384.2,275.3 Z" fill="#6ab94a" stroke="#2f4f2a" stroke-width="0.7"/>
<path d="M365.5,273.7 L370.2,282.3 L360.8,282.3 Z" fill="#6ab94a" stroke="#2f4f2a" stroke-width="0.7"/>
<path d="M368.0,276.7 L372.8,285.3 L363.2,285.3 Z" fill="#6ab94a" stroke="#2f4f2a" stroke-width="0.7"/>
<path d="M388.0,274.7 L392.8,283.3 L383.2,283.3 Z" fill="#6ab94a" stroke="#2f4f2a" stroke-width="0.7"/>
<path d="M419.5,267.7 L424.2,276.3 L414.8,276.3 Z" fill="#6ab94a" stroke="#2f4f2a" stroke-width="0.7"/>
<path d="M404.0,297.7 L408.8,306.3 L399.2,306.3 Z" fill="#6ab94a" stroke="#2f4f2a" stroke-width="0.7"/>
<path d="M422.0,287.7 L426.8,296.3 L417.2,296.3 Z" fill="#6ab94a" stroke="#2f4f2a" stroke-width="0.7"/>
<path d="M352.0,299.7 L356.8,308.3 L347.2,308.3 Z" fill="#6ab94a" stroke="#2f4f2a" stroke-width="0.7"/>
<path d="M362.0,300.7 L366.8,309.3 L357.2,309.3 Z" fill="#6ab94a" stroke="#2f4f2a" stroke-width="0.7"/>
<path d="M367.0,301.7 L371.8,310.3 L362.2,310.3 Z" fill="#6ab94a" stroke="#2f4f2a" stroke-width="0.7"/>
<path d="M363.0,310.7 L367.8,319.3 L358.2,319.3 Z" fill="#6ab94a" stroke="#2f4f2a" stroke-width="0.7"/>
<path d="M366.0,315.7 L370.8,324.3 L361.2,324.3 Z" fill="#6ab94a" stroke="#2f4f2a" stroke-width="0.7"/>
<path d="M395.0,301.7 L399.8,310.3 L390.2,310.3 Z" fill="#6ab94a" stroke="#2f4f2a" stroke-width="0.7"/>
<path d="M421.0,304.7 L425.8,313.3 L416.2,313.3 Z" fill="#6ab94a" stroke="#2f4f2a" stroke-width="0.7"/>
<path d="M424.0,310.7 L428.8,319.3 L419.2,319.3 Z" fill="#6ab94a" stroke="#2f4f2a" stroke-width="0.7"/>
<path d="M433.0,316.7 L437.8,325.3 L428.2,325.3 Z" fill="#6ab94a" stroke="#2f4f2a" stroke-width="0.7"/>
<path d="M447.0,299.7 L451.8,308.3 L442.2,308.3 Z" fill="#6ab94a" stroke="#2f4f2a" stroke-width="0.7"/>
<path d="M452.0,271.7 L456.8,280.3 L447.2,280.3 Z" fill="#6ab94a" stroke="#2f4f2a" stroke-width="0.7"/>
<path d="M461.0,268.7 L465.8,277.3 L456.2,277.3 Z" fill="#6ab94a" stroke="#2f4f2a" stroke-width="0.7"/>
<path d="M494.0,306.7 L498.8,315.3 L489.2,315.3 Z" fill="#6ab94a" stroke="#2f4f2a" stroke-width="0.7"/>
<path d="M464.0,320.5 L468.8,329.1 L459.2,329.1 Z" fill="#6ab94a" stroke="#2f4f2a" stroke-width="0.7"/>
<path d="M414.0,321.7 L418.8,330.3 L409.2,330.3 Z" fill="#6ab94a" stroke="#2f4f2a" stroke-width="0.7"/>
<path d="M422.0,321.7 L426.8,330.3 L417.2,330.3 Z" fill="#6ab94a" stroke="#2f4f2a" stroke-width="0.7"/>
<path d="M380.7,326.7 L385.4,335.3 L375.9,335.3 Z" fill="#6ab94a" stroke="#2f4f2a" stroke-width="0.7"/>
<path d="M366.0,332.7 L370.8,341.3 L361.2,341.3 Z" fill="#6ab94a" stroke="#2f4f2a" stroke-width="0.7"/>
<path d="M367.0,350.7 L371.8,359.3 L362.2,359.3 Z" fill="#6ab94a" stroke="#2f4f2a" stroke-width="0.7"/>
<path d="M352.0,353.7 L356.8,362.3 L347.2,362.3 Z" fill="#6ab94a" stroke="#2f4f2a" stroke-width="0.7"/>
<path d="M366.0,378.7 L370.8,387.3 L361.2,387.3 Z" fill="#6ab94a" stroke="#2f4f2a" stroke-width="0.7"/>
<path d="M345.0,384.7 L349.8,393.3 L340.2,393.3 Z" fill="#6ab94a" stroke="#2f4f2a" stroke-width="0.7"/>
<path d="M345.0,401.7 L349.8,410.3 L340.2,410.3 Z" fill="#6ab94a" stroke="#2f4f2a" stroke-width="0.7"/>
<path d="M366.0,400.7 L370.8,409.3 L361.2,409.3 Z" fill="#6ab94a" stroke="#2f4f2a" stroke-width="0.7"/>
<path d="M381.0,398.7 L385.8,407.3 L376.2,407.3 Z" fill="#6ab94a" stroke="#2f4f2a" stroke-width="0.7"/>
<path d="M418.0,368.7 L422.8,377.3 L413.2,377.3 Z" fill="#6ab94a" stroke="#2f4f2a" stroke-width="0.7"/>
<path d="M426.0,361.7 L430.8,370.3 L421.2,370.3 Z" fill="#6ab94a" stroke="#2f4f2a" stroke-width="0.7"/>
<path d="M455.6,401.4 L460.4,410.0 L450.9,410.0 Z" fill="#6ab94a" stroke="#2f4f2a" stroke-width="0.7"/>
<path d="M464.0,368.2 L468.8,376.8 L459.2,376.8 Z" fill="#6ab94a" stroke="#2f4f2a" stroke-width="0.7"/>
<path d="M422.7,429.7 L427.4,438.3 L417.9,438.3 Z" fill="#6ab94a" stroke="#2f4f2a" stroke-width="0.7"/>
<path d="M526.0,431.7 L530.8,440.3 L521.2,440.3 Z" fill="#6ab94a" stroke="#2f4f2a" stroke-width="0.7"/>
<path d="M392.0,449.7 L396.8,458.3 L387.2,458.3 Z" fill="#6ab94a" stroke="#2f4f2a" stroke-width="0.7"/>
<path d="M396.6,460.7 L401.4,469.3 L391.9,469.3 Z" fill="#6ab94a" stroke="#2f4f2a" stroke-width="0.7"/>
<path d="M385.0,463.7 L389.8,472.3 L380.2,472.3 Z" fill="#6ab94a" stroke="#2f4f2a" stroke-width="0.7"/>
<path d="M348.0,385.7 L352.8,394.3 L343.2,394.3 Z" fill="#6ab94a" stroke="#2f4f2a" stroke-width="0.7"/>
<path d="M352.0,396.7 L356.8,405.3 L347.2,405.3 Z" fill="#6ab94a" stroke="#2f4f2a" stroke-width="0.7"/>
<path d="M527.0,431.7 L531.8,440.3 L522.2,440.3 Z" fill="#6ab94a" stroke="#2f4f2a" stroke-width="0.7"/>
<path d="M373.0,507.3 L377.8,515.9 L368.2,515.9 Z" fill="#6ab94a" stroke="#2f4f2a" stroke-width="0.7"/>
<path d="M380.4,531.0 L385.1,539.6 L375.6,539.6 Z" fill="#6ab94a" stroke="#2f4f2a" stroke-width="0.7"/>
<path d="M381.0,560.2 L385.8,568.8 L376.2,568.8 Z" fill="#6ab94a" stroke="#2f4f2a" stroke-width="0.7"/>
<path d="M364.6,612.5 L369.4,621.1 L359.9,621.1 Z" fill="#6ab94a" stroke="#2f4f2a" stroke-width="0.7"/>
<path d="M387.0,609.7 L391.8,618.3 L382.2,618.3 Z" fill="#6ab94a" stroke="#2f4f2a" stroke-width="0.7"/>
<path d="M391.0,237.7 L395.8,246.3 L386.2,246.3 Z" fill="#6ab94a" stroke="#2f4f2a" stroke-width="0.7"/>
<path d="M389.0,262.7 L393.8,271.3 L384.2,271.3 Z" fill="#6ab94a" stroke="#2f4f2a" stroke-width="0.7"/>
<circle cx="352.7" cy="372.0" r="9.5" fill="#6ccad8" stroke="#2c5560" stroke-width="0.8"/>
<circle cx="384.6" cy="385.4" r="8.5" fill="#6ccad8" stroke="#2c5560" stroke-width="0.8"/>
<circle cx="344.6" cy="431.7" r="11" fill="#6ccad8" stroke="#2c5560" stroke-width="0.8"/>
<circle cx="355.8" cy="419.5" r="6.5" fill="#6ccad8" stroke="#2c5560" stroke-width="0.8"/>
<circle cx="370.0" cy="425.6" r="8.5" fill="#6ccad8" stroke="#2c5560" stroke-width="0.8"/>
<circle cx="358.0" cy="445.8" r="8.5" fill="#6ccad8" stroke="#2c5560" stroke-width="0.8"/>
<circle cx="346.0" cy="452.4" r="8" fill="#6ccad8" stroke="#2c5560" stroke-width="0.8"/>
<circle cx="367.6" cy="439.0" r="6.5" fill="#6ccad8" stroke="#2c5560" stroke-width="0.8"/>
<circle cx="350.7" cy="475.6" r="8" fill="#6ccad8" stroke="#2c5560" stroke-width="0.8"/>
<circle cx="345.6" cy="492.7" r="8" fill="#6ccad8" stroke="#2c5560" stroke-width="0.8"/>
<circle cx="347.0" cy="505.5" r="8.5" fill="#6ccad8" stroke="#2c5560" stroke-width="0.8"/>
<circle cx="393.7" cy="485.4" r="7.5" fill="#6ccad8" stroke="#2c5560" stroke-width="0.8"/>
<circle cx="430.0" cy="486.6" r="8.5" fill="#6ccad8" stroke="#2c5560" stroke-width="0.8"/>
<circle cx="425.8" cy="495.0" r="7" fill="#6ccad8" stroke="#2c5560" stroke-width="0.8"/>
<circle cx="334.0" cy="465.4" r="3.5" fill="#6ccad8" stroke="#2c5560" stroke-width="0.8"/>
<circle cx="425.6" cy="421.2" r="3.5" fill="#6ccad8" stroke="#2c5560" stroke-width="0.8"/>
<circle cx="352.7" cy="324.4" r="3.5" fill="#6ccad8" stroke="#2c5560" stroke-width="0.8"/>
<circle cx="361.4" cy="345.0" r="3.5" fill="#6ccad8" stroke="#2c5560" stroke-width="0.8"/>
<circle cx="428.6" cy="304.6" r="3.5" fill="#6ccad8" stroke="#2c5560" stroke-width="0.8"/>
<circle cx="460.0" cy="311.7" r="3.5" fill="#6ccad8" stroke="#2c5560" stroke-width="0.8"/>
<circle cx="358.8" cy="513.5" r="7.2" fill="#6ccad8" stroke="#2c5560" stroke-width="0.8"/>
<circle cx="394.6" cy="507.0" r="4" fill="#6ccad8" stroke="#2c5560" stroke-width="0.8"/>
<circle cx="396.0" cy="519.0" r="4" fill="#6ccad8" stroke="#2c5560" stroke-width="0.8"/>
<circle cx="390.0" cy="542.9" r="8.5" fill="#6ccad8" stroke="#2c5560" stroke-width="0.8"/>
<circle cx="410.6" cy="504.0" r="7" fill="#6ccad8" stroke="#2c5560" stroke-width="0.8"/>
<circle cx="424.0" cy="514.6" r="7" fill="#6ccad8" stroke="#2c5560" stroke-width="0.8"/>
<circle cx="442.7" cy="543.9" r="9.5" fill="#6ccad8" stroke="#2c5560" stroke-width="0.8"/>
<circle cx="438.6" cy="527.3" r="4" fill="#6ccad8" stroke="#2c5560" stroke-width="0.8"/>
<circle cx="444.4" cy="532.4" r="4" fill="#6ccad8" stroke="#2c5560" stroke-width="0.8"/>
<circle cx="434.0" cy="558.5" r="3.5" fill="#6ccad8" stroke="#2c5560" stroke-width="0.8"/>
<circle cx="427.0" cy="586.0" r="4" fill="#6ccad8" stroke="#2c5560" stroke-width="0.8"/>
<circle cx="432.0" cy="586.0" r="3.5" fill="#6ccad8" stroke="#2c5560" stroke-width="0.8"/>
<circle cx="440.5" cy="592.7" r="3.5" fill="#6ccad8" stroke="#2c5560" stroke-width="0.8"/>
<circle cx="440.5" cy="622.0" r="3.5" fill="#6ccad8" stroke="#2c5560" stroke-width="0.8"/>
<circle cx="351.7" cy="548.5" r="3.5" fill="#6ccad8" stroke="#2c5560" stroke-width="0.8"/>
<circle cx="462.4" cy="500.7" r="7" fill="#6ccad8" stroke="#2c5560" stroke-width="0.8"/>
<circle cx="501.0" cy="512.5" r="4" fill="#6ccad8" stroke="#2c5560" stroke-width="0.8"/>
<circle cx="518.0" cy="525.4" r="4" fill="#6ccad8" stroke="#2c5560" stroke-width="0.8"/>
<circle cx="521.5" cy="513.5" r="4" fill="#6ccad8" stroke="#2c5560" stroke-width="0.8"/>
<circle cx="528.0" cy="493.6" r="3.5" fill="#6ccad8" stroke="#2c5560" stroke-width="0.8"/>
<circle cx="543.3" cy="553.8" r="4" fill="#6ccad8" stroke="#2c5560" stroke-width="0.8"/>
<circle cx="509.5" cy="572.4" r="8.5" fill="#6ccad8" stroke="#2c5560" stroke-width="0.8"/>
<circle cx="513.0" cy="573.0" r="7" fill="#6ccad8" stroke="#2c5560" stroke-width="0.8"/>
<circle cx="537.0" cy="572.4" r="4" fill="#6ccad8" stroke="#2c5560" stroke-width="0.8"/>
<circle cx="622.0" cy="572.4" r="4" fill="#6ccad8" stroke="#2c5560" stroke-width="0.8"/>
<circle cx="515.9" cy="291.0" r="3.5" fill="#6ccad8" stroke="#2c5560" stroke-width="0.8"/>
<circle cx="459.8" cy="311.5" r="3.5" fill="#6ccad8" stroke="#2c5560" stroke-width="0.8"/>
<line x1="631" y1="100" x2="631" y2="490" stroke="#3f5272" stroke-width="2.9"/>
<path d="M631,92 L626.5,104 L631,100 L635.5,104 Z" fill="#3f5272" stroke="none" stroke-width="1" />
<path d="M631,497 L626.5,485 L631,489 L635.5,485 Z" fill="#3f5272" stroke="none" stroke-width="1" />
<line x1="631" y1="508" x2="631" y2="645" stroke="#3f5272" stroke-width="2.9"/>
<path d="M631,500 L626.5,512 L631,508 L635.5,512 Z" fill="#3f5272" stroke="none" stroke-width="1" />
<path d="M631,653 L626.5,641 L631,645 L635.5,641 Z" fill="#3f5272" stroke="none" stroke-width="1" />
<line x1="233.4" y1="470" x2="233.4" y2="755" stroke="#3f5272" stroke-width="2.9"/>
<path d="M233.4,463 L229,475 L233.4,471 L237.8,475 Z" fill="#3f5272" stroke="none" stroke-width="1" />
<path d="M233.4,762 L229,750 L233.4,754 L237.8,750 Z" fill="#3f5272" stroke="none" stroke-width="1" />
<line x1="369" y1="632" x2="524" y2="705" stroke="#3f5272" stroke-width="2.9"/>
<path d="M531,708.5 L517.5,708 L522.5,704.5 L521.5,698.5 Z" fill="#3f5272" stroke="none" stroke-width="1" />
<text x="562.7" y="151.4" font-size="14.5" text-anchor="middle" fill="#333333" font-weight="normal" textLength="55.5" lengthAdjust="spacingAndGlyphs" >Farallon</text>
<text x="562.7" y="168.9" font-size="14.5" text-anchor="middle" fill="#333333" font-weight="normal" textLength="117.1" lengthAdjust="spacingAndGlyphs" >steep-subduction</text>
<text x="562.7" y="186.4" font-size="14.5" text-anchor="middle" fill="#333333" font-weight="normal" textLength="77.7" lengthAdjust="spacingAndGlyphs" >pre-mineral</text>
<text x="562.7" y="203.9" font-size="14.5" text-anchor="middle" fill="#333333" font-weight="normal" textLength="94.0" lengthAdjust="spacingAndGlyphs" >arc volcanism</text>
<text x="562.7" y="221.4" font-size="14.5" text-anchor="middle" fill="#333333" font-weight="normal" textLength="117.1" lengthAdjust="spacingAndGlyphs" >and contractional</text>
<text x="562.7" y="238.9" font-size="14.5" text-anchor="middle" fill="#333333" font-weight="normal" textLength="105.9" lengthAdjust="spacingAndGlyphs" >deformation (B)</text>
<text x="579.5" y="498.6" font-size="14.5" text-anchor="middle" fill="#333333" font-weight="normal" textLength="19.6" lengthAdjust="spacingAndGlyphs" >Cu</text>
<text x="579.5" y="515.9" font-size="14.5" text-anchor="middle" fill="#333333" font-weight="normal" textLength="76.0" lengthAdjust="spacingAndGlyphs" >Sweet spot</text>
<text x="579.5" y="533.3" font-size="14.5" text-anchor="middle" fill="#333333" font-weight="normal" textLength="79.4" lengthAdjust="spacingAndGlyphs" >syn-mineral</text>
<text x="579.5" y="550.6" font-size="14.5" text-anchor="middle" fill="#333333" font-weight="normal" textLength="42.7" lengthAdjust="spacingAndGlyphs" >end of</text>
<text x="579.5" y="567.9" font-size="14.5" text-anchor="middle" fill="#333333" font-weight="normal" textLength="75.2" lengthAdjust="spacingAndGlyphs" >contraction</text>
<text x="579.5" y="585.2" font-size="14.5" text-anchor="middle" fill="#333333" font-weight="normal" textLength="75.2" lengthAdjust="spacingAndGlyphs" >and crustal</text>
<text x="579.5" y="602.6" font-size="14.5" text-anchor="middle" fill="#333333" font-weight="normal" textLength="82.9" lengthAdjust="spacingAndGlyphs" >anatexis (C)</text>
<text x="280.4" y="628.0" font-size="14.5" text-anchor="middle" fill="#333333" font-weight="normal" textLength="55.5" lengthAdjust="spacingAndGlyphs" >Farallon</text>
<text x="280.4" y="645.4" font-size="14.5" text-anchor="middle" fill="#333333" font-weight="normal" textLength="53.8" lengthAdjust="spacingAndGlyphs" >flat-slab</text>
<text x="280.4" y="662.7" font-size="14.5" text-anchor="middle" fill="#333333" font-weight="normal" textLength="74.3" lengthAdjust="spacingAndGlyphs" >subduction</text>
<text x="280.4" y="680.1" font-size="14.5" text-anchor="middle" fill="#333333" font-weight="normal" textLength="34.2" lengthAdjust="spacingAndGlyphs" >post-</text>
<text x="280.4" y="697.5" font-size="14.5" text-anchor="middle" fill="#333333" font-weight="normal" textLength="50.4" lengthAdjust="spacingAndGlyphs" >mineral</text>
<text x="280.4" y="714.9" font-size="14.5" text-anchor="middle" fill="#333333" font-weight="normal" textLength="77.8" lengthAdjust="spacingAndGlyphs" >quiescence</text>
<text x="280.4" y="732.2" font-size="14.5" text-anchor="middle" fill="#333333" font-weight="normal" textLength="78.6" lengthAdjust="spacingAndGlyphs" >and cooling</text>
<g transform="translate(430,700) rotate(25.5)">
<text x="0.0" y="-12.0" font-size="14.5" text-anchor="middle" fill="#333333" font-weight="normal" textLength="141.0" lengthAdjust="spacingAndGlyphs" >Southeast migration</text>
<text x="0.0" y="5.0" font-size="14.5" text-anchor="middle" fill="#333333" font-weight="normal" textLength="143.0" lengthAdjust="spacingAndGlyphs" >of the Cu sweet spot</text>
<text x="2.0" y="22.0" font-size="14.5" text-anchor="middle" fill="#333333" font-weight="normal" textLength="203.0" lengthAdjust="spacingAndGlyphs" >along CPTZ at ~26.5 km Myr<tspan dy="-5" font-size="10">−1</tspan></text>
</g>
<rect x="65" y="544.6" width="148.2" height="214.4" fill="#fff" stroke="#555" stroke-width="1.5"/>
<rect x="69.5" y="549.7" width="21.8" height="11.1" fill="#a7a9ac" stroke="#4a3d3a" stroke-width="0.8"/>
<text x="99.6" y="559.9" font-size="12.5" text-anchor="start" fill="#333333" font-weight="normal" textLength="91.4" lengthAdjust="spacingAndGlyphs" >Crustal anatexis</text>
<text x="99.6" y="574.7" font-size="12.5" text-anchor="start" fill="#333333" font-weight="normal" textLength="62.4" lengthAdjust="spacingAndGlyphs" >(this study)</text>
<rect x="69.5" y="589" width="21.8" height="11" fill="#fff200" stroke="#4a3d3a" stroke-width="0.8"/>
<text x="99.6" y="598.3" font-size="12.5" text-anchor="start" fill="#333333" font-weight="normal" textLength="91.3" lengthAdjust="spacingAndGlyphs" >Ms ± Grt granite</text>
<rect x="69.5" y="607" width="21.8" height="10.8" fill="#b5479a" stroke="#4a3d3a" stroke-width="0.8"/>
<text x="99.6" y="616.4" font-size="12.5" text-anchor="start" fill="#333333" font-weight="normal" textLength="90.0" lengthAdjust="spacingAndGlyphs" >Orocopia Schist</text>
<text x="99.6" y="630.8" font-size="12.5" text-anchor="start" fill="#333333" font-weight="normal" textLength="84.3" lengthAdjust="spacingAndGlyphs" >metamorphism</text>
<circle cx="80.6" cy="643.3" r="8" fill="#6ccad8" stroke="#2c5560" stroke-width="0.8"/>
<text x="99.6" y="647.0" font-size="12.5" text-anchor="start" fill="#333333" font-weight="normal" textLength="68.0" lengthAdjust="spacingAndGlyphs" >PCDs (size)</text>
<rect x="69.5" y="661" width="21.8" height="10.5" fill="#f6a28c" stroke="#4a3d3a" stroke-width="0.8"/>
<text x="99.6" y="670.2" font-size="12.5" text-anchor="start" fill="#333333" font-weight="normal" textLength="97.8" lengthAdjust="spacingAndGlyphs" >Shortening range</text>
<rect x="69.5" y="681.7" width="21.8" height="11.2" fill="#231f20" stroke="#4a3d3a" stroke-width="0.8"/>
<text x="99.6" y="692.0" font-size="12.5" text-anchor="start" fill="#333333" font-weight="normal" textLength="92.1" lengthAdjust="spacingAndGlyphs" >Extension range</text>
<rect x="77.8" y="703.5" width="6.5" height="6.5" fill="#231f20" stroke="#4a3d3a" stroke-width="0.6"/>
<text x="99.6" y="710.5" font-size="12.5" text-anchor="start" fill="#333333" font-weight="normal" textLength="104.2" lengthAdjust="spacingAndGlyphs" >Start of shortening</text>
<rect x="77.8" y="723.5" width="6.5" height="6.5" fill="#ed1c24" stroke="#4a3d3a" stroke-width="0.6"/>
<text x="99.6" y="730.0" font-size="12.5" text-anchor="start" fill="#333333" font-weight="normal" textLength="99.9" lengthAdjust="spacingAndGlyphs" >End of shortening</text>
<path d="M81.0,744.2 L85.8,752.8 L76.2,752.8 Z" fill="#6ab94a" stroke="#2f4f2a" stroke-width="0.7"/>
<text x="99.6" y="752.0" font-size="12.5" text-anchor="start" fill="#333333" font-weight="normal" textLength="53.9" lengthAdjust="spacingAndGlyphs" >Volcanics</text>
<text x="646.5" y="22.2" font-size="23" text-anchor="start" fill="#1a1a1a" font-weight="bold"  stroke="#1a1a1a" stroke-width="0.9">b</text>
<text x="876.7" y="22.2" font-size="16.9" text-anchor="start" fill="#333333" font-weight="normal" textLength="288.5" lengthAdjust="spacingAndGlyphs" >Pre-Laramide orogenesis ~90–75 Ma</text>
<text x="784.0" y="48.5" font-size="17" text-anchor="start" fill="#333333" font-weight="normal" textLength="77.0" lengthAdjust="spacingAndGlyphs" >California</text>
<line x1="701.8" y1="53.4" x2="944.5" y2="53.4" stroke="#3f5272" stroke-width="2.8"/>
<path d="M696.8,53.4 L708.3,48.4 L705.3,53.4 L708.3,58.4 Z" fill="#3f5272" stroke="#3f5272" stroke-width="0.6" stroke-linejoin="round"/>
<path d="M949.5,53.4 L938.0,48.4 L941.0,53.4 L938.0,58.4 Z" fill="#3f5272" stroke="#3f5272" stroke-width="0.6" stroke-linejoin="round"/>
<text x="1138.2" y="48.6" font-size="17" text-anchor="start" fill="#333333" font-weight="normal" textLength="59.2" lengthAdjust="spacingAndGlyphs" >Arizona</text>
<line x1="985.6" y1="54.0" x2="1351" y2="54.0" stroke="#3f5272" stroke-width="2.8"/>
<path d="M980.6,54.0 L992.1,49.0 L989.1,54.0 L992.1,59.0 Z" fill="#3f5272" stroke="#3f5272" stroke-width="0.6" stroke-linejoin="round"/>
<path d="M1356,54.0 L1344.5,49.0 L1347.5,54.0 L1344.5,59.0 Z" fill="#3f5272" stroke="#3f5272" stroke-width="0.6" stroke-linejoin="round"/>
<text x="661.4" y="89.0" font-size="17" text-anchor="start" fill="#333333" font-weight="normal" textLength="84.6" lengthAdjust="spacingAndGlyphs" >Southwest</text>
<text x="776.4" y="80.4" font-size="17" text-anchor="start" fill="#333333" font-weight="normal" textLength="233.4" lengthAdjust="spacingAndGlyphs" >Jurassic–Late Cretaceous arc</text>
<line x1="780.6" y1="89.4" x2="1003" y2="89.4" stroke="#3f5272" stroke-width="2.8"/>
<path d="M775.6,89.4 L787.1,84.4 L784.1,89.4 L787.1,94.4 Z" fill="#3f5272" stroke="#3f5272" stroke-width="0.6" stroke-linejoin="round"/>
<path d="M1008,89.4 L996.5,84.4 L999.5,89.4 L996.5,94.4 Z" fill="#3f5272" stroke="#3f5272" stroke-width="0.6" stroke-linejoin="round"/>
<text x="1175.0" y="76.5" font-size="17" text-anchor="start" fill="#333333" font-weight="normal" textLength="41.3" lengthAdjust="spacingAndGlyphs" >CPTZ</text>
<line x1="1113" y1="87.10000000000001" x2="1280" y2="87.10000000000001" stroke="#3f5272" stroke-width="2.8"/>
<path d="M1108,87.10000000000001 L1119.5,82.10000000000001 L1116.5,87.10000000000001 L1119.5,92.10000000000001 Z" fill="#3f5272" stroke="#3f5272" stroke-width="0.6" stroke-linejoin="round"/>
<path d="M1285,87.10000000000001 L1273.5,82.10000000000001 L1276.5,87.10000000000001 L1273.5,92.10000000000001 Z" fill="#3f5272" stroke="#3f5272" stroke-width="0.6" stroke-linejoin="round"/>
<text x="1303.0" y="88.4" font-size="17" text-anchor="start" fill="#333333" font-weight="normal" textLength="76.5" lengthAdjust="spacingAndGlyphs" >Northeast</text>
<text x="952.3" y="107.2" font-size="17" text-anchor="start" fill="#333333" font-weight="normal" textLength="325.4" lengthAdjust="spacingAndGlyphs" >Arc volcanism, Contraction and no PCDs</text>
<line x1="987" y1="116.60000000000001" x2="1242.4" y2="116.60000000000001" stroke="#3f5272" stroke-width="2.8"/>
<path d="M982,116.60000000000001 L993.5,111.60000000000001 L990.5,116.60000000000001 L993.5,121.60000000000001 Z" fill="#3f5272" stroke="#3f5272" stroke-width="0.6" stroke-linejoin="round"/>
<path d="M1247.4,116.60000000000001 L1235.9,111.60000000000001 L1238.9,116.60000000000001 L1235.9,121.60000000000001 Z" fill="#3f5272" stroke="#3f5272" stroke-width="0.6" stroke-linejoin="round"/>
<text x="700.5" y="118.3" font-size="14" text-anchor="start" fill="#333333" font-weight="normal" textLength="32.4" lengthAdjust="spacingAndGlyphs" >Hess</text>
<text x="684.6" y="135.2" font-size="14" text-anchor="start" fill="#333333" font-weight="normal" textLength="67.7" lengthAdjust="spacingAndGlyphs" >conjugate</text>
<text x="764.2" y="128.1" font-size="14.3" text-anchor="start" fill="#333333" font-weight="normal" textLength="144.1" lengthAdjust="spacingAndGlyphs" >North American crust</text>
<text x="794.0" y="145.3" font-size="14.3" text-anchor="start" fill="#333333" font-weight="normal" textLength="84.0" lengthAdjust="spacingAndGlyphs" >(~1.8–1.4 Ga)</text>
<line x1="702.5" y1="160.2" x2="711.5" y2="160.2" stroke="#555" stroke-width="1.3"/>
<text x="694.9" y="165.4" font-size="15.3" text-anchor="end" fill="#333333" font-weight="normal" textLength="8.3" lengthAdjust="spacingAndGlyphs" >0</text>
<line x1="702.5" y1="182.2" x2="711.5" y2="182.2" stroke="#555" stroke-width="1.3"/>
<text x="694.9" y="187.4" font-size="15.3" text-anchor="end" fill="#333333" font-weight="normal" textLength="16.7" lengthAdjust="spacingAndGlyphs" >25</text>
<line x1="702.5" y1="204.3" x2="711.5" y2="204.3" stroke="#555" stroke-width="1.3"/>
<text x="694.9" y="209.5" font-size="15.3" text-anchor="end" fill="#333333" font-weight="normal" textLength="16.7" lengthAdjust="spacingAndGlyphs" >50</text>
<line x1="702.5" y1="226.3" x2="711.5" y2="226.3" stroke="#555" stroke-width="1.3"/>
<text x="694.9" y="231.5" font-size="15.3" text-anchor="end" fill="#333333" font-weight="normal" textLength="16.7" lengthAdjust="spacingAndGlyphs" >75</text>
<line x1="702.5" y1="248.4" x2="711.5" y2="248.4" stroke="#555" stroke-width="1.3"/>
<text x="694.9" y="253.6" font-size="15.3" text-anchor="end" fill="#333333" font-weight="normal" textLength="25.0" lengthAdjust="spacingAndGlyphs" >100</text>
<line x1="702.5" y1="270.4" x2="711.5" y2="270.4" stroke="#555" stroke-width="1.3"/>
<text x="694.9" y="275.6" font-size="15.3" text-anchor="end" fill="#333333" font-weight="normal" textLength="25.0" lengthAdjust="spacingAndGlyphs" >125</text>
<line x1="702.5" y1="292.5" x2="711.5" y2="292.5" stroke="#555" stroke-width="1.3"/>
<text x="694.9" y="297.7" font-size="15.3" text-anchor="end" fill="#333333" font-weight="normal" textLength="25.0" lengthAdjust="spacingAndGlyphs" >150</text>
<line x1="702.5" y1="314.5" x2="711.5" y2="314.5" stroke="#555" stroke-width="1.3"/>
<text x="694.9" y="319.7" font-size="15.3" text-anchor="end" fill="#333333" font-weight="normal" textLength="25.0" lengthAdjust="spacingAndGlyphs" >175</text>
<line x1="702.5" y1="336.6" x2="711.5" y2="336.6" stroke="#555" stroke-width="1.3"/>
<text x="694.9" y="341.8" font-size="15.3" text-anchor="end" fill="#333333" font-weight="normal" textLength="25.0" lengthAdjust="spacingAndGlyphs" >200</text>
<line x1="711.5" y1="149" x2="711.5" y2="337" stroke="#555" stroke-width="1.3"/>
<text x="663.5" y="243.9" font-size="16.5" text-anchor="middle" fill="#333333" font-weight="normal" textLength="87.8" lengthAdjust="spacingAndGlyphs" transform="rotate(-90 663.5 243.9)">Depth (km)</text>
<rect x="711.5" y="159" width="637.5" height="178" fill="#8fcc8c"/>
<path d="M711.5,159.6 L727.0,159.6 L800.0,158.5 L850.0,156.5 L900.0,155.0 L945.0,153.5 L968.0,154.3 L990.0,154.5 L1022.0,156.0 L1046.0,156.5 L1085.0,156.2 L1128.0,154.0 L1189.4,149.4 L1250.0,157.0 L1262.0,157.5 L1278.0,154.5 L1278.0,154.5 L1257.0,219.0 L1200.0,212.0 L1153.0,208.0 L1110.0,214.0 L1069.0,220.6 L1000.0,217.7 L940.0,207.8 L884.4,197.7 L855.5,191.2 L826.6,183.2 L797.8,174.5 L768.9,165.9 L740.0,160.8 L727.0,159.6 Z" fill="#f7b79c" stroke="#1f1a17" stroke-width="1.5" />
<path d="M855.5,191.2 L884.4,197.7 L940.0,207.8 L1000.0,217.7 L1069.0,220.6 L1110.0,214.0 L1153.0,208.0 L1200.0,212.0 L1257.0,219.0 L1263.0,276.5 L1222.0,270.5 L1167.0,259.5 L1111.0,243.0 L1069.0,231.7 L1000.0,221.8 L940.0,216.4 L906.0,215.7 L884.4,204.2 Z" fill="#8b7298" stroke="#1f1a17" stroke-width="1.5" />
<path d="M711.5,159.6 C714.1,159.6 722.2,159.4 727.0,159.6 C731.8,159.8 733.0,159.8 740.0,160.8 C747.0,161.9 759.3,163.6 768.9,165.9 C778.5,168.2 788.2,171.6 797.8,174.5 C807.4,177.4 817.0,180.4 826.6,183.2 C836.2,186.0 845.9,187.7 855.5,191.2 C865.1,194.7 876.0,200.1 884.4,204.2 C892.8,208.3 898.8,211.0 906.0,215.7 C913.2,220.4 922.0,227.6 927.7,232.3 C933.4,237.0 936.0,239.1 940.0,243.9 C944.0,248.7 948.3,254.3 952.0,261.0 C955.7,267.7 959.4,276.7 962.3,284.0 C965.2,291.3 967.3,295.9 969.5,304.7 C971.7,313.5 974.7,331.4 975.7,336.8 L711.5,337 Z" fill="#15a77c" stroke="#1f1a17" stroke-width="1.5" />
<path d="M711.5,188.7 C713.2,188.3 718.1,188.1 722.0,186.5 C725.9,184.9 731.5,180.8 735.0,179.0 C738.5,177.2 735.0,175.8 743.0,176.0 C751.0,176.2 771.8,178.4 783.3,180.3 C794.8,182.2 802.6,184.6 812.2,187.5 C821.8,190.4 831.4,194.3 841.0,197.7 C850.6,201.1 860.4,204.2 870.0,207.8 C879.6,211.4 890.4,215.2 898.8,219.3 C907.2,223.4 914.8,227.2 920.5,232.3 C926.2,237.4 929.1,242.9 933.3,250.0 C937.5,257.1 941.9,265.9 945.7,275.0 C949.5,284.1 953.2,294.4 956.0,304.7 C958.8,315.0 961.2,331.4 962.3,336.8 L711.5,337 Z" fill="#0e7d56" stroke="#1f1a17" stroke-width="1.5" />
<path d="M711.5,248.0 C719.6,249.0 743.2,251.2 760.0,254.0 C776.8,256.8 798.7,261.7 812.0,265.0 C825.3,268.3 833.3,270.8 840.0,273.6 C846.7,276.4 848.6,278.5 852.4,282.0 C856.2,285.5 859.7,288.9 862.8,294.4 C865.9,299.9 869.1,307.9 871.0,315.0 C872.9,322.1 873.7,333.2 874.2,336.8 L711.5,337 Z" fill="#8fcc8c" stroke="#1f1a17" stroke-width="1.5" />
<path d="M1349,155 L1349,213 L1257,219 C1257.2,215.0 1256.5,202.8 1258.0,195.0 C1259.5,187.2 1262.7,178.8 1266.0,172.0 C1269.3,165.2 1276.0,157.4 1278.0,154.5 L1278,154.5 Z" fill="#d8962e" stroke="#1f1a17" stroke-width="1.5" />
<path d="M1257,219 L1349,213 L1349,337 L1299,337 L1270,290 L1263,276.5 Z" fill="#5b4fa1" stroke="#1f1a17" stroke-width="1.5" />
<line x1="711.5" y1="337" x2="1349" y2="337" stroke="#1f1a17" stroke-width="1.5"/>
<line x1="711.5" y1="149" x2="711.5" y2="338" stroke="#6d6d6d" stroke-width="1.5"/>
<text x="724.5" y="227.0" font-size="15.6" text-anchor="start" fill="#fff" font-weight="normal" textLength="91.0" lengthAdjust="spacingAndGlyphs" >Farallon plate</text>
<text x="738.0" y="309.0" font-size="15.6" text-anchor="start" fill="#333333" font-weight="normal" textLength="101.0" lengthAdjust="spacingAndGlyphs" >Asthenosphere</text>
<text x="1155.7" y="241.5" font-size="14.5" text-anchor="start" fill="#333333" font-weight="normal" textLength="38.9" lengthAdjust="spacingAndGlyphs" >SCLM</text>
<text x="1311.4" y="252.6" font-size="15" text-anchor="middle" fill="#fff" font-weight="normal" textLength="59.2" lengthAdjust="spacingAndGlyphs" >Cratonic</text>
<text x="1311.4" y="270.0" font-size="15" text-anchor="middle" fill="#fff" font-weight="normal" textLength="38.9" lengthAdjust="spacingAndGlyphs" >SCLM</text>
<text x="1311.3" y="169.2" font-size="15" text-anchor="middle" fill="#333333" font-weight="normal" textLength="62.3" lengthAdjust="spacingAndGlyphs" >Colorado</text>
<text x="1311.3" y="186.4" font-size="15" text-anchor="middle" fill="#333333" font-weight="normal" textLength="50.6" lengthAdjust="spacingAndGlyphs" >plateau</text>
<text x="1311.3" y="204.0" font-size="15" text-anchor="middle" fill="#333333" font-weight="normal" textLength="53.4" lengthAdjust="spacingAndGlyphs" >(craton)</text>
<text x="1036.0" y="295.7" font-size="15" text-anchor="start" fill="#333333" font-weight="normal" textLength="97.3" lengthAdjust="spacingAndGlyphs" >Mantle Wedge</text>
<text x="1062.6" y="322.0" font-size="15.3" text-anchor="start" fill="#333333" font-weight="normal" textLength="101.5" lengthAdjust="spacingAndGlyphs" >Asthenosphere</text>
<text x="892.0" y="355.5" font-size="15" text-anchor="start" fill="#333333" font-weight="normal" textLength="252.6" lengthAdjust="spacingAndGlyphs" >Peak Laramide orogenesis ~75–55 Ma</text>
<path d="M969.5,136.0 C966.0,133.5 967.5,132.7 971.5,131.7 C973.0,126.58 974.5,126.58 976.0,129.14 C977.5,132.02 979.0,132.02 980.5,130.42 C983.0,126.58 984.5,126.58 986.0,129.14 C987.5,132.02 989.0,132.02 990.5,130.42 C991.5,134.9 992.5,135.5 987.5,136.5 C985.5,139.5 982.5,139.0 981.0,137.0 S979.0,134.5 978.5,136.0 C975.5,139.5 972.5,139.0 971.0,137.0 S969.0,134.5 968.5,136.0 Z" fill="#fff" stroke="#1f1a17" stroke-width="1.1" />
<path d="M992,135.0 C988.5,132.5 990,128.2 995.0,127.2 C997.0,122.08 999.0,122.08 1001.0,124.64 C1003.0,127.52 1005.0,127.52 1007.0,125.92 C1010.3333333333334,122.08 1012.3333333333334,122.08 1014.3333333333334,124.64 C1016.3333333333334,127.52 1018.3333333333334,127.52 1020.3333333333334,125.92 C1023.6666666666666,122.08 1025.6666666666665,122.08 1027.6666666666665,124.64 C1029.6666666666665,127.52 1031.6666666666667,127.52 1033.6666666666665,125.92 C1034,130.4 1035,134.5 1030,135.5 C1027.0,138.5 1023.0,138.0 1021.0,136.0 S1018.3333333333334,133.5 1017.6666666666666,135.0 C1013.6666666666666,138.5 1009.6666666666666,138.0 1007.6666666666666,136.0 S1005.0,133.5 1004.3333333333333,135.0 C1000.3333333333334,138.5 996.3333333333334,138.0 994.3333333333334,136.0 S991.6666666666667,133.5 991.0,135.0 Z" fill="#fff" stroke="#1f1a17" stroke-width="1.1" />
<path d="M1024.5,138.5 C1021.0,136 1022.5,135.7 1026.425,134.7 C1027.8875,129.58 1029.35,129.58 1030.8125,132.14 C1032.275,135.02 1033.7375,135.02 1035.2,133.42 C1037.6375,129.58 1039.1,129.58 1040.5625,132.14 C1042.025,135.02 1043.4875,135.02 1044.95,133.42 C1046,137.9 1047,138 1042,139 C1040.075,142 1037.15,141.5 1035.6875,139.5 S1033.7375,137 1033.25,138.5 C1030.325,142 1027.4,141.5 1025.9375,139.5 S1023.9875,137 1023.5,138.5 Z" fill="#fff" stroke="#1f1a17" stroke-width="1.1" />
<path d="M1046,139.0 C1042.5,136.5 1044,131.2 1049.2,130.2 C1051.3,125.08 1053.4,125.08 1055.5,127.64 C1057.6,130.52 1059.7,130.52 1061.8,128.92 C1065.3,125.08 1067.4,125.08 1069.5,127.64 C1071.6,130.52 1073.7,130.52 1075.8,128.92 C1079.3,125.08 1081.4,125.08 1083.5,127.64 C1085.6,130.52 1087.7,130.52 1089.8,128.92 C1090,133.4 1091,138.5 1086,139.5 C1082.8,142.5 1078.6,142.0 1076.5,140.0 S1073.7,137.5 1073.0,139.0 C1068.8,142.5 1064.6,142.0 1062.5,140.0 S1059.7,137.5 1059.0,139.0 C1054.8,142.5 1050.6,142.0 1048.5,140.0 S1045.7,137.5 1045.0,139.0 Z" fill="#fff" stroke="#1f1a17" stroke-width="1.1" />
<path d="M945.2,147 L950.4000000000001,153.8 L940.0,153.8 Z" fill="#7b5230" stroke="#1f1a17" stroke-width="0.9" stroke-linejoin="round"/>
<path d="M891,150.5 L897,157.3 L885,157.3 Z" fill="#7b5230" stroke="#1f1a17" stroke-width="0.9" stroke-linejoin="round"/>
<path d="M920.5,148.8 L926.5,155.60000000000002 L914.5,155.60000000000002 Z" fill="#7b5230" stroke="#1f1a17" stroke-width="0.9" stroke-linejoin="round"/>
<path d="M1065.3,148.7 L1070.8,155.5 L1059.8,155.5 Z" fill="#7b5230" stroke="#1f1a17" stroke-width="0.9" stroke-linejoin="round"/>
<path d="M1085.6,149.9 L1091.1,156.70000000000002 L1080.1,156.70000000000002 Z" fill="#7b5230" stroke="#1f1a17" stroke-width="0.9" stroke-linejoin="round"/>
<path d="M1116.8,149.7 L1122.3,156.5 L1111.3,156.5 Z" fill="#7b5230" stroke="#1f1a17" stroke-width="0.9" stroke-linejoin="round"/>
<path d="M968.3,140.6 L975.3,154.5 L961.3,154.5 Z" fill="#7b5230" stroke="#1f1a17" stroke-width="0.9" stroke-linejoin="round"/>
<path d="M990.8,140.6 L997.8,154.5 L983.8,154.5 Z" fill="#7b5230" stroke="#1f1a17" stroke-width="0.9" stroke-linejoin="round"/>
<path d="M1022.6,142.9 L1029.6,156.2 L1015.6,156.2 Z" fill="#7b5230" stroke="#1f1a17" stroke-width="0.9" stroke-linejoin="round"/>
<path d="M1045.7,143.5 L1052.7,156.2 L1038.7,156.2 Z" fill="#7b5230" stroke="#1f1a17" stroke-width="0.9" stroke-linejoin="round"/>
<path d="M857.35,170.37 Q861.70,168.46 866.43,168.97 Q870.55,168.33 868.91,172.17 L863.27,185.33 Q862.53,187.06 861.59,185.43 L855.31,174.62 Q853.22,171.01 857.35,170.37 Z" fill="#ed1c24" stroke="#1f1a17" stroke-width="1.4" stroke-linejoin="round"/>
<path d="M872.69,159.87 Q879.05,157.41 885.77,158.48 Q891.80,157.84 889.44,163.42 L881.10,183.14 Q880.03,185.66 878.75,183.24 L869.51,165.87 Q866.66,160.51 872.69,159.87 Z" fill="#ed1c24" stroke="#1f1a17" stroke-width="1.4" stroke-linejoin="round"/>
<path d="M895.94,157.68 Q903.87,156.13 911.66,158.31 Q917.17,158.53 914.35,163.28 L905.07,178.87 Q903.80,181.00 902.57,178.84 L893.15,162.26 Q890.42,157.46 895.94,157.68 Z" fill="#ed1c24" stroke="#1f1a17" stroke-width="1.4" stroke-linejoin="round"/>
<path d="M920.86,158.95 Q928.15,157.83 935.10,160.31 Q940.82,160.86 938.14,165.94 L930.04,181.26 Q928.84,183.54 927.60,181.27 L917.89,163.44 Q915.14,158.40 920.86,158.95 Z" fill="#ed1c24" stroke="#1f1a17" stroke-width="1.4" stroke-linejoin="round"/>
<path d="M943.35,155.35 Q947.60,154.51 951.70,155.91 Q955.55,156.17 953.66,159.53 L947.20,171.02 Q946.35,172.54 945.71,170.92 L940.91,158.69 Q939.50,155.10 943.35,155.35 Z" fill="#ed1c24" stroke="#1f1a17" stroke-width="1.4" stroke-linejoin="round"/>
<path d="M960.61,155.78 Q969.76,155.45 978.28,158.76 Q982.45,159.46 979.73,162.69 L970.73,173.41 Q969.50,174.87 968.46,173.28 L958.77,158.60 Q956.45,155.07 960.61,155.78 Z" fill="#ed1c24" stroke="#1f1a17" stroke-width="1.4" stroke-linejoin="round"/>
<path d="M1004.40,165.72 Q1009.25,165.25 1013.69,167.28 Q1017.98,168.00 1015.98,171.86 L1010.21,183.06 Q1009.31,184.80 1008.49,183.02 L1001.94,168.95 Q1000.11,165.00 1004.40,165.72 Z" fill="#ed1c24" stroke="#1f1a17" stroke-width="1.4" stroke-linejoin="round"/>
<path d="M938,185.5 Q975,181 1004,190.5 Q970,197.5 938,185.5 Z" fill="#ed1c24" stroke="#1f1a17" stroke-width="1.2" />
<path d="M992,189.5 Q1030,186 1064,196 Q1025,201 992,189.5 Z" fill="#ed1c24" stroke="#1f1a17" stroke-width="1.2" />
<rect x="966.4" y="154.5" width="3.8" height="33.5" fill="#ed1c24" stroke="#1f1a17" stroke-width="0.7"/>
<rect x="967.0999999999999" y="155.0" width="2.4" height="35.0" fill="#ed1c24"/>
<rect x="989.5" y="154.5" width="3.8" height="36.5" fill="#ed1c24" stroke="#1f1a17" stroke-width="0.7"/>
<rect x="990.1999999999999" y="155.0" width="2.4" height="38.0" fill="#ed1c24"/>
<rect x="1020.7" y="156.2" width="3.8" height="36.80000000000001" fill="#ed1c24" stroke="#1f1a17" stroke-width="0.7"/>
<rect x="1021.4" y="156.7" width="2.4" height="38.30000000000001" fill="#ed1c24"/>
<rect x="1043.8" y="156.2" width="3.8" height="38.30000000000001" fill="#ed1c24" stroke="#1f1a17" stroke-width="0.7"/>
<rect x="1044.5" y="156.7" width="2.4" height="39.80000000000001" fill="#ed1c24"/>
<path d="M966.25,257.5 C962.5,240.625 959.375,222.5 964.375,220 Q966.25,216.875 968.75,220.2 C973.125,223.125 970.0,240.625 966.25,257.5 Z" fill="#ed1c24" stroke="#1f1a17" stroke-width="1" />
<path d="M965.5,212.5 C963.4,204.625 961.65,196.4 964.45,195 Q965.5,193.25 966.9,195.2 C969.35,196.75 967.6,204.625 965.5,212.5 Z" fill="#ed1c24" stroke="#1f1a17" stroke-width="1" />
<path d="M972.5,226 C970.4,211.6 968.65,195.4 971.45,194 Q972.5,192.25 973.9,194.2 C976.35,195.75 974.6,211.6 972.5,226 Z" fill="#ed1c24" stroke="#1f1a17" stroke-width="1" />
<path d="M984.5,210 C982.4,203.25 980.65,196.4 983.45,195 Q984.5,193.25 985.9,195.2 C988.35,196.75 986.6,203.25 984.5,210 Z" fill="#ed1c24" stroke="#1f1a17" stroke-width="1" />
<path d="M1022.5,233 C1020.1,217.43 1018.1,200.0 1021.3,198.4 Q1022.5,196.4 1024.1,198.6 C1026.9,200.4 1024.9,217.43 1022.5,233 Z" fill="#ed1c24" stroke="#1f1a17" stroke-width="1" />
<path d="M975.65,271.3 C973.76,263.425 972.185,255.06 974.7049999999999,253.8 Q975.65,252.22500000000002 976.91,254.0 C979.115,255.375 977.54,263.425 975.65,271.3 Z" fill="#ed1c24" stroke="#1f1a17" stroke-width="1" />
<path d="M1010.0,272.5 C1007.6,264.625 1005.6,256.6 1008.8,255 Q1010.0,253.0 1011.6,255.2 C1014.4,257.0 1012.4,264.625 1010.0,272.5 Z" fill="#ed1c24" stroke="#1f1a17" stroke-width="1" />
<path d="M1085.25,206.7 C1083.0,198.555 1081.125,190.1 1084.125,188.6 Q1085.25,186.725 1086.75,188.79999999999998 C1089.375,190.475 1087.5,198.555 1085.25,206.7 Z" fill="#ed1c24" stroke="#1f1a17" stroke-width="1" />
<path d="M1112.6,240 C1110.08,231.9 1107.98,223.67999999999998 1111.34,222 Q1112.6,219.90000000000003 1114.28,222.2 C1117.22,224.09999999999997 1115.12,231.9 1112.6,240 Z" fill="#ed1c24" stroke="#1f1a17" stroke-width="1" />
<path d="M1141.8,181.7 C1139.28,173.555 1137.1799999999998,165.28 1140.54,163.6 Q1141.8,161.49999999999997 1143.48,163.79999999999998 C1146.42,165.70000000000002 1144.32,173.555 1141.8,181.7 Z" fill="#ed1c24" stroke="#1f1a17" stroke-width="1" />
<path d="M1160.5,185.9 C1158.4,177.755 1156.65,169.20000000000002 1159.45,167.8 Q1160.5,166.05 1161.9,168.0 C1164.35,169.55 1162.6,177.755 1160.5,185.9 Z" fill="#ed1c24" stroke="#1f1a17" stroke-width="1" />
<path d="M1046.85,177 C1044.78,171.825 1043.055,166.87999999999997 1045.8149999999998,165.5 Q1046.85,163.77500000000003 1048.2299999999998,165.7 C1050.645,167.22499999999997 1048.9199999999998,171.825 1046.85,177 Z" fill="#ed1c24" stroke="#1f1a17" stroke-width="1" />
<path d="M1051.4,157.8 C1054.6,159.8 1062.1,166.6 1070.3,169.9 C1078.5,173.2 1089.2,175.3 1100.6,177.5 C1112.0,179.7 1119.9,181.0 1138.6,182.8 C1157.3,184.6 1200.4,187.2 1212.8,188.1" fill="none" stroke="#1f1a17" stroke-width="1.1" />
<path d="M1125.0,153.2 C1128.5,154.3 1140.0,157.0 1146.0,160.0 C1152.0,163.0 1155.0,167.7 1161.3,171.4 C1167.6,175.1 1177.7,179.5 1184.0,182.0 C1190.3,184.5 1196.7,185.8 1199.2,186.5" fill="none" stroke="#1f1a17" stroke-width="1.1" />
<path d="M1172.0,150.9 C1175.3,151.9 1182.0,154.3 1191.6,157.0 C1201.2,159.7 1223.2,165.2 1229.5,166.8" fill="none" stroke="#1f1a17" stroke-width="1.1" />
<path d="M1203.8,152.4 C1205.0,153.7 1208.9,158.1 1211.3,160.0 C1213.7,161.9 1217.0,163.2 1218.2,163.8" fill="none" stroke="#1f1a17" stroke-width="1.1" />
<path d="M1212.8,152.4 C1213.8,153.3 1216.0,155.3 1219.0,157.7 C1222.0,160.1 1229.0,165.3 1231.0,166.8" fill="none" stroke="#1f1a17" stroke-width="1.1" />
<path d="M1097.6,159.2 C1101.1,161.2 1113.2,168.1 1118.8,171.4 C1124.4,174.7 1129.0,177.7 1131.0,179.0" fill="none" stroke="#1f1a17" stroke-width="1.1" />
<rect x="1058.4" y="160.2" width="8.6" height="2.6" fill="#1f1a17" transform="rotate(30 1062.7 161.5)"/>
<rect x="1066.0" y="161.7" width="8.6" height="2.6" fill="#1f1a17" transform="rotate(30 1070.3 163)"/>
<rect x="1075.1000000000001" y="156.39999999999998" width="8.6" height="2.6" fill="#1f1a17" transform="rotate(10 1079.4 157.7)"/>
<rect x="1096.3" y="161.0" width="8.6" height="2.6" fill="#1f1a17" transform="rotate(20 1100.6 162.3)"/>
<rect x="1116.0" y="167.1" width="8.6" height="2.6" fill="#1f1a17" transform="rotate(25 1120.3 168.4)"/>
<rect x="1120.6000000000001" y="173.1" width="8.6" height="2.6" fill="#1f1a17" transform="rotate(25 1124.9 174.4)"/>
<rect x="1146.4" y="158.7" width="8.6" height="2.6" fill="#1f1a17" transform="rotate(25 1150.7 160)"/>
<rect x="1193.4" y="154.89999999999998" width="8.6" height="2.6" fill="#1f1a17" transform="rotate(20 1197.7 156.2)"/>
<rect x="1222.2" y="158.0" width="8.6" height="2.6" fill="#1f1a17" transform="rotate(40 1226.5 159.3)"/>
<rect x="1079.7" y="170.1" width="8.6" height="2.6" fill="#1f1a17" transform="rotate(40 1084 171.4)"/>
<rect x="1123.7" y="171.7" width="8.6" height="2.6" fill="#1f1a17" transform="rotate(10 1128 173)"/>
<path d="M877.5,193.8 C871.5,197.8 873.5,202.8 879.5,201.8 C885.5,201.8 881.5,208.8 874.5,209.8" fill="none" stroke="#475a78" stroke-width="2.4" stroke-linecap="round"/>
<path d="M877.5,188.8 L881.3,196.8 L877.5,195.3 L873.7,196.8 Z" fill="#475a78" stroke="#475a78" stroke-width="1" />
<path d="M913.8,210.5 C907.8,214.5 909.8,219.5 915.8,218.5 C921.8,218.5 917.8,225.5 910.8,226.5" fill="none" stroke="#475a78" stroke-width="2.4" stroke-linecap="round"/>
<path d="M913.8,205.5 L917.5999999999999,213.5 L913.8,212.0 L910.0,213.5 Z" fill="#475a78" stroke="#475a78" stroke-width="1" />
<path d="M938,238 C932.0,242.0 934.0,247.0 940.0,246.0 C946.0,246.0 942.0,253.0 935.0,254.0" fill="none" stroke="#475a78" stroke-width="2.4" stroke-linecap="round"/>
<path d="M938,233 L941.8,241.0 L938,239.5 L934.2,241.0 Z" fill="#475a78" stroke="#475a78" stroke-width="1" />
<path d="M960,274.5 C954.0,278.5 956.0,283.5 962.0,282.5 C968.0,282.5 964.0,289.5 957.0,290.5" fill="none" stroke="#475a78" stroke-width="2.4" stroke-linecap="round"/>
<path d="M960,269.5 L963.8,277.5 L960,276.0 L956.2,277.5 Z" fill="#475a78" stroke="#475a78" stroke-width="1" />
<path d="M973.8,314 C967.8,318.0 969.8,323.0 975.8,322.0 C981.8,322.0 977.8,329.0 970.8,330.0" fill="none" stroke="#475a78" stroke-width="2.4" stroke-linecap="round"/>
<path d="M973.8,309 L977.5999999999999,317.0 L973.8,315.5 L970.0,317.0 Z" fill="#475a78" stroke="#475a78" stroke-width="1" />
<path d="M1129,275.7 C1090,262 1050,248 1020,244 C1000,240 986,238 988,252 C990,266 1005,285 1022,300" fill="none" stroke="#475a78" stroke-width="2.6" />
<path d="M1027,305 L1015.5,299.5 L1021,298.5 L1022.5,293 Z" fill="#475a78" stroke="#475a78" stroke-width="1" />
<path d="M837.2,212.4 C842.8,214.3 860.9,219.0 871.0,224.0 C881.1,229.0 890.8,236.2 898.0,242.5 C905.2,248.8 910.0,256.1 914.0,262.0 C918.0,267.9 920.7,275.3 922.0,278.0" fill="none" stroke="#fff" stroke-width="3" />
<path d="M925,285 L915.5,275.5 L921,277.5 L925.5,273 Z" fill="#fff" stroke="#fff" stroke-width="1.5" />
<g transform="translate(864,253) rotate(28)">
<text x="0.0" y="5.0" font-size="15" text-anchor="middle" fill="#fff" font-weight="normal"  >~100 mm yr<tspan dy="-5" font-size="10">−1</tspan></text>
</g>
<text x="970.0" y="305.0" font-size="15" text-anchor="start" fill="#333333" font-weight="normal"  >+H<tspan dy="3" font-size="10">2</tspan><tspan dy="-3">O</tspan></text>
<circle cx="727.5" cy="159.5" r="6.5" fill="#fff" stroke="#1f1a17" stroke-width="1.1"/>
<text x="727.5" y="163.1" font-size="10" text-anchor="middle" fill="#333333" font-weight="normal"  >1</text>
<circle cx="718" cy="196.3" r="6.5" fill="#fff" stroke="#1f1a17" stroke-width="1.1"/>
<text x="718.0" y="199.9" font-size="10" text-anchor="middle" fill="#333333" font-weight="normal"  >i</text>
<text x="646.7" y="382.0" font-size="23" text-anchor="start" fill="#1a1a1a" font-weight="bold"  stroke="#1a1a1a" stroke-width="0.9">c</text>
<text x="794.4" y="382.6" font-size="14.6" text-anchor="start" fill="#333333" font-weight="normal" textLength="196.9" lengthAdjust="spacingAndGlyphs" >Jurassic–Late Cretaceous arc</text>
<line x1="782.6" y1="392.59999999999997" x2="1003.7" y2="392.59999999999997" stroke="#3f5272" stroke-width="2.8"/>
<path d="M777.6,392.59999999999997 L789.1,387.59999999999997 L786.1,392.59999999999997 L789.1,397.59999999999997 Z" fill="#3f5272" stroke="#3f5272" stroke-width="0.6" stroke-linejoin="round"/>
<path d="M1008.7,392.59999999999997 L997.2,387.59999999999997 L1000.2,392.59999999999997 L997.2,397.59999999999997 Z" fill="#3f5272" stroke="#3f5272" stroke-width="0.6" stroke-linejoin="round"/>
<text x="1179.3" y="382.0" font-size="14.6" text-anchor="start" fill="#333333" font-weight="normal" textLength="34.7" lengthAdjust="spacingAndGlyphs" >CPTZ</text>
<line x1="1113.4" y1="393.2" x2="1280" y2="393.2" stroke="#3f5272" stroke-width="2.8"/>
<path d="M1108.4,393.2 L1119.9,388.2 L1116.9,393.2 L1119.9,398.2 Z" fill="#3f5272" stroke="#3f5272" stroke-width="0.6" stroke-linejoin="round"/>
<path d="M1285,393.2 L1273.5,388.2 L1276.5,393.2 L1273.5,398.2 Z" fill="#3f5272" stroke="#3f5272" stroke-width="0.6" stroke-linejoin="round"/>
<text x="1047.0" y="415.6" font-size="14.6" text-anchor="start" fill="#333333" font-weight="normal" textLength="277.0" lengthAdjust="spacingAndGlyphs" >No volcanism, crustal anatexis and PCDs</text>
<line x1="1133.4" y1="427.09999999999997" x2="1270" y2="427.09999999999997" stroke="#3f5272" stroke-width="2.8"/>
<path d="M1128.4,427.09999999999997 L1139.9,422.09999999999997 L1136.9,427.09999999999997 L1139.9,432.09999999999997 Z" fill="#3f5272" stroke="#3f5272" stroke-width="0.6" stroke-linejoin="round"/>
<path d="M1275,427.09999999999997 L1263.5,422.09999999999997 L1266.5,427.09999999999997 L1263.5,432.09999999999997 Z" fill="#3f5272" stroke="#3f5272" stroke-width="0.6" stroke-linejoin="round"/>
<line x1="702.5" y1="463.8" x2="711.5" y2="463.8" stroke="#555" stroke-width="1.3"/>
<text x="694.9" y="469.0" font-size="15.3" text-anchor="end" fill="#333333" font-weight="normal" textLength="8.3" lengthAdjust="spacingAndGlyphs" >0</text>
<line x1="702.5" y1="485.9" x2="711.5" y2="485.9" stroke="#555" stroke-width="1.3"/>
<text x="694.9" y="491.1" font-size="15.3" text-anchor="end" fill="#333333" font-weight="normal" textLength="16.7" lengthAdjust="spacingAndGlyphs" >25</text>
<line x1="702.5" y1="508.1" x2="711.5" y2="508.1" stroke="#555" stroke-width="1.3"/>
<text x="694.9" y="513.3" font-size="15.3" text-anchor="end" fill="#333333" font-weight="normal" textLength="16.7" lengthAdjust="spacingAndGlyphs" >50</text>
<line x1="702.5" y1="530.2" x2="711.5" y2="530.2" stroke="#555" stroke-width="1.3"/>
<text x="694.9" y="535.5" font-size="15.3" text-anchor="end" fill="#333333" font-weight="normal" textLength="16.7" lengthAdjust="spacingAndGlyphs" >75</text>
<line x1="702.5" y1="552.4" x2="711.5" y2="552.4" stroke="#555" stroke-width="1.3"/>
<text x="694.9" y="557.6" font-size="15.3" text-anchor="end" fill="#333333" font-weight="normal" textLength="25.0" lengthAdjust="spacingAndGlyphs" >100</text>
<line x1="702.5" y1="574.5" x2="711.5" y2="574.5" stroke="#555" stroke-width="1.3"/>
<text x="694.9" y="579.8" font-size="15.3" text-anchor="end" fill="#333333" font-weight="normal" textLength="25.0" lengthAdjust="spacingAndGlyphs" >125</text>
<line x1="702.5" y1="596.7" x2="711.5" y2="596.7" stroke="#555" stroke-width="1.3"/>
<text x="694.9" y="601.9" font-size="15.3" text-anchor="end" fill="#333333" font-weight="normal" textLength="25.0" lengthAdjust="spacingAndGlyphs" >150</text>
<line x1="702.5" y1="618.9" x2="711.5" y2="618.9" stroke="#555" stroke-width="1.3"/>
<text x="694.9" y="624.1" font-size="15.3" text-anchor="end" fill="#333333" font-weight="normal" textLength="25.0" lengthAdjust="spacingAndGlyphs" >175</text>
<line x1="702.5" y1="641.0" x2="711.5" y2="641.0" stroke="#555" stroke-width="1.3"/>
<text x="694.9" y="646.2" font-size="15.3" text-anchor="end" fill="#333333" font-weight="normal" textLength="25.0" lengthAdjust="spacingAndGlyphs" >200</text>
<line x1="711.5" y1="452" x2="711.5" y2="652.5" stroke="#555" stroke-width="1.3"/>
<text x="663.5" y="548.0" font-size="16.5" text-anchor="middle" fill="#333333" font-weight="normal" textLength="87.8" lengthAdjust="spacingAndGlyphs" transform="rotate(-90 663.5 548)">Depth (km)</text>
<line x1="710.8" y1="652.5" x2="710.8" y2="659.5" stroke="#555" stroke-width="1.3"/>
<text x="710.8" y="678.0" font-size="15.3" text-anchor="middle" fill="#333333" font-weight="normal" textLength="8.3" lengthAdjust="spacingAndGlyphs" >0</text>
<line x1="754.9" y1="652.5" x2="754.9" y2="659.5" stroke="#555" stroke-width="1.3"/>
<text x="754.9" y="678.0" font-size="15.3" text-anchor="middle" fill="#333333" font-weight="normal" textLength="16.7" lengthAdjust="spacingAndGlyphs" >50</text>
<line x1="799.1" y1="652.5" x2="799.1" y2="659.5" stroke="#555" stroke-width="1.3"/>
<text x="799.1" y="678.0" font-size="15.3" text-anchor="middle" fill="#333333" font-weight="normal" textLength="25.0" lengthAdjust="spacingAndGlyphs" >100</text>
<line x1="843.2" y1="652.5" x2="843.2" y2="659.5" stroke="#555" stroke-width="1.3"/>
<text x="843.2" y="678.0" font-size="15.3" text-anchor="middle" fill="#333333" font-weight="normal" textLength="25.0" lengthAdjust="spacingAndGlyphs" >150</text>
<line x1="887.4" y1="652.5" x2="887.4" y2="659.5" stroke="#555" stroke-width="1.3"/>
<text x="887.4" y="678.0" font-size="15.3" text-anchor="middle" fill="#333333" font-weight="normal" textLength="25.0" lengthAdjust="spacingAndGlyphs" >200</text>
<line x1="931.5" y1="652.5" x2="931.5" y2="659.5" stroke="#555" stroke-width="1.3"/>
<text x="931.5" y="678.0" font-size="15.3" text-anchor="middle" fill="#333333" font-weight="normal" textLength="25.0" lengthAdjust="spacingAndGlyphs" >250</text>
<line x1="975.7" y1="652.5" x2="975.7" y2="659.5" stroke="#555" stroke-width="1.3"/>
<text x="975.7" y="678.0" font-size="15.3" text-anchor="middle" fill="#333333" font-weight="normal" textLength="25.0" lengthAdjust="spacingAndGlyphs" >300</text>
<line x1="1019.8" y1="652.5" x2="1019.8" y2="659.5" stroke="#555" stroke-width="1.3"/>
<text x="1019.8" y="678.0" font-size="15.3" text-anchor="middle" fill="#333333" font-weight="normal" textLength="25.0" lengthAdjust="spacingAndGlyphs" >350</text>
<line x1="1064.0" y1="652.5" x2="1064.0" y2="659.5" stroke="#555" stroke-width="1.3"/>
<text x="1064.0" y="678.0" font-size="15.3" text-anchor="middle" fill="#333333" font-weight="normal" textLength="25.0" lengthAdjust="spacingAndGlyphs" >400</text>
<line x1="1108.1" y1="652.5" x2="1108.1" y2="659.5" stroke="#555" stroke-width="1.3"/>
<text x="1108.1" y="678.0" font-size="15.3" text-anchor="middle" fill="#333333" font-weight="normal" textLength="25.0" lengthAdjust="spacingAndGlyphs" >450</text>
<line x1="1152.3" y1="652.5" x2="1152.3" y2="659.5" stroke="#555" stroke-width="1.3"/>
<text x="1152.3" y="678.0" font-size="15.3" text-anchor="middle" fill="#333333" font-weight="normal" textLength="25.0" lengthAdjust="spacingAndGlyphs" >500</text>
<line x1="1196.4" y1="652.5" x2="1196.4" y2="659.5" stroke="#555" stroke-width="1.3"/>
<text x="1196.4" y="678.0" font-size="15.3" text-anchor="middle" fill="#333333" font-weight="normal" textLength="25.0" lengthAdjust="spacingAndGlyphs" >550</text>
<line x1="1240.6" y1="652.5" x2="1240.6" y2="659.5" stroke="#555" stroke-width="1.3"/>
<text x="1240.6" y="678.0" font-size="15.3" text-anchor="middle" fill="#333333" font-weight="normal" textLength="25.0" lengthAdjust="spacingAndGlyphs" >600</text>
<line x1="1284.8" y1="652.5" x2="1284.8" y2="659.5" stroke="#555" stroke-width="1.3"/>
<text x="1284.8" y="678.0" font-size="15.3" text-anchor="middle" fill="#333333" font-weight="normal" textLength="25.0" lengthAdjust="spacingAndGlyphs" >650</text>
<line x1="1328.9" y1="652.5" x2="1328.9" y2="659.5" stroke="#555" stroke-width="1.3"/>
<text x="1328.9" y="678.0" font-size="15.3" text-anchor="middle" fill="#333333" font-weight="normal" textLength="25.0" lengthAdjust="spacingAndGlyphs" >700</text>
<text x="1038.5" y="703.5" font-size="15.6" text-anchor="middle" fill="#333333" font-weight="normal" textLength="209.3" lengthAdjust="spacingAndGlyphs" >Distance from trench (km)</text>
<rect x="711.5" y="463" width="636.5" height="189.5" fill="#8fcc8c"/>
<path d="M711.5,463.7 L711.5,463.7 C717.9,463.6 735.2,463.4 750.0,463.0 C764.8,462.6 781.7,461.8 800.0,461.5 C818.3,461.2 836.7,461.6 860.0,461.2 C883.3,460.8 913.3,460.0 940.0,459.0 C966.7,458.0 995.0,456.2 1020.0,455.4 C1045.0,454.6 1075.0,455.1 1090.0,454.0 C1105.0,452.9 1100.0,449.8 1110.0,449.0 C1120.0,448.2 1135.0,449.6 1150.0,449.4 C1165.0,449.1 1185.0,447.4 1200.0,447.5 C1215.0,447.6 1227.2,448.5 1240.0,450.0 C1252.8,451.5 1270.4,455.6 1276.5,456.7 L1348,458 L1348,592.8 L1348.0,592.8 C1341.0,590.9 1317.5,585.9 1305.8,581.7 C1294.1,577.5 1287.3,572.4 1278.0,567.8 C1268.7,563.2 1259.3,556.9 1250.0,553.9 C1240.7,550.9 1239.2,550.9 1222.0,549.7 C1204.8,548.5 1170.7,547.1 1147.0,546.5 C1123.3,545.9 1104.5,546.8 1080.0,546.0 C1055.5,545.2 1021.7,543.6 1000.0,542.0 C978.3,540.4 966.7,538.0 950.0,536.5 C933.3,535.0 916.7,534.9 900.0,533.0 C883.3,531.1 866.7,529.2 850.0,525.4 C833.3,521.6 816.7,514.9 800.0,510.0 C783.3,505.1 764.8,498.9 750.0,496.0 C735.2,493.1 717.9,492.9 711.5,492.3 Z" fill="#15a77c" stroke="none" stroke-width="1" />
<path d="M711.5,492.3 C717.9,492.9 735.2,493.1 750.0,496.0 C764.8,498.9 783.3,505.1 800.0,510.0 C816.7,514.9 833.3,521.6 850.0,525.4 C866.7,529.2 883.3,531.1 900.0,533.0 C916.7,534.9 933.3,535.0 950.0,536.5 C966.7,538.0 978.3,540.4 1000.0,542.0 C1021.7,543.6 1055.5,545.2 1080.0,546.0 C1104.5,546.8 1123.3,545.9 1147.0,546.5 C1170.7,547.1 1204.8,548.5 1222.0,549.7 C1239.2,550.9 1240.7,550.9 1250.0,553.9 C1259.3,556.9 1268.7,563.2 1278.0,567.8 C1287.3,572.4 1294.1,577.5 1305.8,581.7 C1317.5,585.9 1341.0,590.9 1348.0,592.8 L1348,652.6 L1330,652.6 L1330.0,652.6 C1326.0,651.0 1314.5,647.3 1305.8,642.9 C1297.1,638.5 1287.3,631.1 1278.0,626.2 C1268.7,621.3 1263.0,616.8 1250.0,613.7 C1237.0,610.6 1217.2,608.8 1200.0,607.5 C1182.8,606.2 1180.3,606.8 1147.0,606.0 C1113.7,605.2 1032.8,604.2 1000.0,603.0 C967.2,601.8 966.7,600.1 950.0,598.6 C933.3,597.1 916.7,595.9 900.0,594.0 C883.3,592.1 866.7,590.5 850.0,587.0 C833.3,583.5 816.7,577.9 800.0,573.0 C783.3,568.1 764.8,561.1 750.0,557.6 C735.2,554.1 717.9,552.9 711.5,552.0 Z" fill="#0e7d56" stroke="#1f1a17" stroke-width="1.5" />
<path d="M1330.0,652.6 C1326.0,651.0 1314.5,647.3 1305.8,642.9 C1297.1,638.5 1287.3,631.1 1278.0,626.2 C1268.7,621.3 1263.0,616.8 1250.0,613.7 C1237.0,610.6 1217.2,608.8 1200.0,607.5 C1182.8,606.2 1180.3,606.8 1147.0,606.0 C1113.7,605.2 1032.8,604.2 1000.0,603.0 C967.2,601.8 966.7,600.1 950.0,598.6 C933.3,597.1 916.7,595.9 900.0,594.0 C883.3,592.1 866.7,590.5 850.0,587.0 C833.3,583.5 816.7,577.9 800.0,573.0 C783.3,568.1 764.8,561.1 750.0,557.6 C735.2,554.1 717.9,552.9 711.5,552.0" fill="none" stroke="#1f1a17" stroke-width="1.5" />
<path d="M711.5,463.7 C717.9,463.6 735.2,463.4 750.0,463.0 C764.8,462.6 781.7,461.8 800.0,461.5 C818.3,461.2 836.7,461.6 860.0,461.2 C883.3,460.8 913.3,460.0 940.0,459.0 C966.7,458.0 995.0,456.2 1020.0,455.4 C1045.0,454.6 1075.0,455.1 1090.0,454.0 C1105.0,452.9 1100.0,449.8 1110.0,449.0 C1120.0,448.2 1135.0,449.6 1150.0,449.4 C1165.0,449.1 1185.0,447.4 1200.0,447.5 C1215.0,447.6 1227.2,448.5 1240.0,450.0 C1252.8,451.5 1270.4,455.6 1276.5,456.7 L1276.5,456.7 C1266,470 1256,495 1253.5,522.4 L1253.5,522.4 C1236.2,522.2 1171.2,521.8 1150.0,521.4 C1128.8,521.0 1137.6,521.1 1126.3,519.7 C1115.0,518.4 1096.8,516.1 1082.4,513.3 C1068.0,510.5 1051.2,506.1 1040.0,503.1 C1028.8,500.1 1023.8,498.2 1015.3,495.3 C1006.8,492.4 997.2,488.4 989.3,485.8 C981.4,483.2 974.9,480.5 967.7,479.7 C960.5,478.9 952.5,480.5 946.0,481.0 C939.5,481.5 935.2,482.0 928.7,482.8 C922.2,483.6 914.5,484.7 907.0,485.8 C899.5,486.9 893.2,487.9 884.0,489.3 C874.8,490.7 857.0,493.5 851.6,494.3 L851.6,494.3 C845.5,492.3 826.6,486.1 814.7,482.3 C802.8,478.5 790.8,474.1 780.0,471.4 C769.2,468.7 761.4,467.3 750.0,466.0 C738.6,464.7 717.9,464.1 711.5,463.7 Z" fill="#f7b79c" stroke="#1f1a17" stroke-width="1.5" />
<path d="M851.6,494.3 C857.0,493.5 874.8,490.7 884.0,489.3 C893.2,487.9 899.5,486.9 907.0,485.8 C914.5,484.7 922.2,483.6 928.7,482.8 C935.2,482.0 939.5,481.5 946.0,481.0 C952.5,480.5 960.5,478.9 967.7,479.7 C974.9,480.5 981.4,483.2 989.3,485.8 C997.2,488.4 1010.2,493.4 1015.3,495.3 C1020.4,497.2 1019.2,496.7 1020.0,497.0 L1020,523.9 L989.3,521.3 L972,517.9 L965,517.5 L965.0,517.5 C961.8,517.1 953.5,516.5 946.0,515.3 C938.5,514.0 930.3,512.0 920.0,510.0 C909.7,508.0 895.4,505.7 884.0,503.1 C872.6,500.5 857.0,495.8 851.6,494.3 Z" fill="#f7b79c" stroke="none" stroke-width="1" />
<path d="M889.7,488.5 C894.8,488.5 912.1,488.0 920.0,488.4 C927.9,488.8 931.5,489.3 937.3,491.0 C943.1,492.7 947.5,496.4 954.7,498.8 C961.9,501.2 972.0,503.8 980.7,505.7 C989.4,507.6 1000.2,509.0 1006.7,510.0 C1013.2,511.0 1017.8,511.3 1020.0,511.6 L1020,523.9 L989.3,521.3 C986.4,520.7 977.8,519.5 972.0,517.9 C966.2,516.3 960.5,513.8 954.7,511.8 C948.9,509.8 943.1,507.4 937.3,505.7 C931.5,504.0 926.2,503.5 920.0,501.4 C913.8,499.3 905.0,495.1 900.0,493.0 C895.0,490.9 891.4,489.2 889.7,488.5 Z" fill="#15a77c" stroke="none" stroke-width="1" />
<path d="M946.0,481.0 C949.6,480.8 960.5,478.9 967.7,479.7 C974.9,480.5 981.4,483.2 989.3,485.8 C997.2,488.4 1010.2,493.4 1015.3,495.3 C1020.4,497.2 1019.2,496.7 1020.0,497.0 L1020,510.5 L1020.0,510.5 C1017.8,509.3 1011.8,505.5 1006.7,503.1 C1001.6,500.7 996.5,498.8 989.3,496.2 C982.1,493.6 970.5,490.0 963.3,487.5 C956.1,485.0 948.9,482.1 946.0,481.0 Z" fill="#15a77c" stroke="none" stroke-width="1" />
<path d="M851.6,494.3 C857.0,493.5 874.8,490.7 884.0,489.3 C893.2,487.9 899.5,486.9 907.0,485.8 C914.5,484.7 922.2,483.6 928.7,482.8 C935.2,482.0 939.5,481.5 946.0,481.0 C952.5,480.5 960.5,478.9 967.7,479.7 C974.9,480.5 981.4,483.2 989.3,485.8 C997.2,488.4 1010.2,493.4 1015.3,495.3 C1020.4,497.2 1019.2,496.7 1020.0,497.0" fill="none" stroke="#1f1a17" stroke-width="1.1" />
<path d="M851.6,494.3 C857.0,495.8 872.6,500.5 884.0,503.1 C895.4,505.7 909.7,508.0 920.0,510.0 C930.3,512.0 938.5,514.0 946.0,515.3 C953.5,516.5 961.8,517.1 965.0,517.5" fill="none" stroke="#1f1a17" stroke-width="1.1" />
<path d="M889.7,488.5 C891.4,489.2 895.0,490.9 900.0,493.0 C905.0,495.1 913.8,499.3 920.0,501.4 C926.2,503.5 931.5,504.0 937.3,505.7 C943.1,507.4 948.9,509.8 954.7,511.8 C960.5,513.8 966.2,516.3 972.0,517.9 C977.8,519.5 978.0,520.0 989.3,521.3 C1000.6,522.6 1013.2,524.3 1040.0,525.7 C1066.8,527.1 1131.7,528.9 1150.0,529.5" fill="none" stroke="#1f1a17" stroke-width="1.1" />
<path d="M889.7,488.5 C894.8,488.5 912.1,488.0 920.0,488.4 C927.9,488.8 931.5,489.3 937.3,491.0 C943.1,492.7 947.5,496.4 954.7,498.8 C961.9,501.2 972.0,503.8 980.7,505.7 C989.4,507.6 1000.2,509.0 1006.7,510.0 C1013.2,511.0 1017.8,511.3 1020.0,511.6" fill="none" stroke="#1f1a17" stroke-width="1.1" />
<path d="M946.0,481.0 C948.9,482.1 956.1,485.0 963.3,487.5 C970.5,490.0 982.1,493.6 989.3,496.2 C996.5,498.8 1001.6,500.7 1006.7,503.1 C1011.8,505.5 1017.8,509.3 1020.0,510.5" fill="none" stroke="#1f1a17" stroke-width="1.1" />
<path d="M1018.0,511.0 C1021.7,512.2 1031.3,515.5 1040.0,518.0 C1048.7,520.5 1060.0,524.5 1070.0,526.0 C1080.0,527.5 1095.0,526.8 1100.0,527.0" fill="none" stroke="#1f1a17" stroke-width="1" />
<path d="M1276.5,456.7 L1348,458.4 L1348,518 L1293.6,517.3 L1253.5,522.4 C1256,495 1266,470 1276.5,456.7 Z" fill="#d8962e" stroke="#1f1a17" stroke-width="1.5" />
<path d="M1253.5,522.4 L1293.6,517.3 L1348,518 L1348,569 C1320,566 1300,556 1285,546 C1275,540 1262,530 1253.5,522.4 Z" fill="#5b4fa1" stroke="#1f1a17" stroke-width="1.5" />
<path d="M1278.0,567.8 C1282.6,570.1 1294.1,577.5 1305.8,581.7 C1317.5,585.9 1341.0,590.9 1348.0,592.8" fill="none" stroke="#1f1a17" stroke-width="1.5" />
<line x1="711.5" y1="652.5" x2="1348" y2="652.5" stroke="#1f1a17" stroke-width="1.2"/>
<line x1="1348" y1="458" x2="1348" y2="652.5" stroke="#1f1a17" stroke-width="1.5"/>
<line x1="711.5" y1="452" x2="711.5" y2="653" stroke="#6d6d6d" stroke-width="1.5"/>
<path d="M956.6,454.8 L962.6,460 L950.6,460 Z" fill="#7b5230" stroke="#1f1a17" stroke-width="0.9" stroke-linejoin="round"/>
<path d="M979.3,451.2 L985.3,457.5 L973.3,457.5 Z" fill="#7b5230" stroke="#1f1a17" stroke-width="0.9" stroke-linejoin="round"/>
<path d="M1004,448.8 L1010,455.5 L998,455.5 Z" fill="#7b5230" stroke="#1f1a17" stroke-width="0.9" stroke-linejoin="round"/>
<path d="M1035.3,449.4 L1041.3,455.5 L1029.3,455.5 Z" fill="#7b5230" stroke="#1f1a17" stroke-width="0.9" stroke-linejoin="round"/>
<path d="M1057,448.2 L1063,455 L1051,455 Z" fill="#7b5230" stroke="#1f1a17" stroke-width="0.9" stroke-linejoin="round"/>
<path d="M1082,448.2 L1088,455 L1076,455 Z" fill="#7b5230" stroke="#1f1a17" stroke-width="0.9" stroke-linejoin="round"/>
<path d="M1119.3,441.3 L1126.3,449.5 L1112.3,449.5 Z" fill="#7b5230" stroke="#1f1a17" stroke-width="0.9" stroke-linejoin="round"/>
<path d="M1137.2,440.5 L1144.2,449 L1130.2,449 Z" fill="#7b5230" stroke="#1f1a17" stroke-width="0.9" stroke-linejoin="round"/>
<path d="M854.14,474.44 Q859.62,474.51 864.48,477.06 Q868.19,478.00 866.05,481.18 L859.95,490.27 Q858.99,491.70 858.25,490.14 L852.06,476.97 Q850.43,473.51 854.14,474.44 Z" fill="#ed1c24" stroke="#1f1a17" stroke-width="1.4" stroke-linejoin="round"/>
<path d="M870.62,464.15 Q877.33,464.20 883.15,467.52 Q888.60,468.99 885.51,473.73 L876.72,487.20 Q875.33,489.32 874.43,486.95 L867.18,467.96 Q865.17,462.68 870.62,464.15 Z" fill="#ed1c24" stroke="#1f1a17" stroke-width="1.4" stroke-linejoin="round"/>
<path d="M892.79,461.10 Q900.71,461.21 907.74,464.85 Q912.84,466.13 909.79,470.41 L900.84,482.93 Q899.47,484.85 898.46,482.71 L889.93,464.57 Q887.70,459.82 892.79,461.10 Z" fill="#ed1c24" stroke="#1f1a17" stroke-width="1.4" stroke-linejoin="round"/>
<path d="M918.29,462.89 Q925.20,463.07 931.13,466.64 Q936.80,468.29 933.80,473.38 L925.73,487.08 Q924.39,489.37 923.36,486.92 L914.90,466.68 Q912.62,461.23 918.29,462.89 Z" fill="#ed1c24" stroke="#1f1a17" stroke-width="1.4" stroke-linejoin="round"/>
<path d="M938.97,457.85 Q943.67,457.45 947.93,459.46 Q952.06,460.21 950.13,463.94 L944.37,475.01 Q943.50,476.69 942.74,474.96 L936.54,460.95 Q934.84,457.11 938.97,457.85 Z" fill="#ed1c24" stroke="#1f1a17" stroke-width="1.4" stroke-linejoin="round"/>
<path d="M958.07,459.95 Q966.44,459.43 974.27,462.43 Q978.74,463.12 975.93,466.66 L966.63,478.42 Q965.37,480.02 964.36,478.25 L955.83,463.20 Q953.60,459.26 958.07,459.95 Z" fill="#ed1c24" stroke="#1f1a17" stroke-width="1.4" stroke-linejoin="round"/>
<path d="M1012.59,477.14 Q1017.63,477.12 1022.02,479.58 Q1026.19,480.66 1024.00,484.37 L1017.97,494.61 Q1016.99,496.28 1016.23,494.50 L1010.10,480.02 Q1008.43,476.06 1012.59,477.14 Z" fill="#ed1c24" stroke="#1f1a17" stroke-width="1.4" stroke-linejoin="round"/>
<path d="M1112.46,454.69 Q1115.29,454.91 1117.63,456.52 Q1120.02,457.37 1119.21,459.77 L1115.67,470.31 Q1115.31,471.39 1114.99,470.30 L1110.79,456.27 Q1110.07,453.84 1112.46,454.69 Z" fill="#ed1c24" stroke="#1f1a17" stroke-width="1.4" stroke-linejoin="round"/>
<path d="M1084.10,487.07 Q1086.93,486.64 1089.61,487.69 Q1092.15,487.97 1091.35,490.40 L1087.16,503.25 Q1086.80,504.34 1086.47,503.24 L1082.29,489.24 Q1081.55,486.79 1084.10,487.07 Z" fill="#ed1c24" stroke="#1f1a17" stroke-width="1.4" stroke-linejoin="round"/>
<path d="M1046.6999999999998,485.7 C1044.6599999999999,477.28499999999997 1042.96,468.36 1045.6799999999998,467 Q1046.6999999999998,465.3 1048.0599999999997,467.2 C1050.4399999999998,468.7 1048.7399999999998,477.28499999999997 1046.6999999999998,485.7 Z" fill="#ed1c24" stroke="#1f1a17" stroke-width="1" />
<path d="M978.0,465.6 C981.7,467.0 992.8,470.6 1000.0,474.0 C1007.2,477.4 1012.0,481.4 1021.0,486.0 C1030.0,490.6 1042.9,497.5 1053.9,501.5 C1064.9,505.5 1074.9,507.6 1086.8,510.2 C1098.7,512.8 1115.2,515.3 1125.2,516.8 C1135.2,518.3 1143.4,518.6 1147.0,519.0" fill="none" stroke="#1f1a17" stroke-width="1.1" />
<path d="M1021.0,456.5 C1025.6,457.4 1041.1,459.2 1048.4,462.0 C1055.7,464.8 1059.6,470.2 1064.9,473.0 C1070.2,475.8 1069.2,477.2 1080.2,479.0 C1091.2,480.8 1119.5,483.0 1130.7,483.9 C1141.9,484.8 1144.5,484.3 1147.2,484.4" fill="none" stroke="#1f1a17" stroke-width="1.1" />
<path d="M1089.0,454.3 C1092.3,456.1 1104.4,462.1 1108.8,465.2 C1113.2,468.3 1113.5,471.0 1115.3,473.0 C1117.1,475.0 1117.1,475.7 1119.7,477.3 C1122.3,478.9 1128.9,481.9 1130.7,482.8" fill="none" stroke="#1f1a17" stroke-width="1.1" />
<path d="M1111.0,450.4 C1117.0,451.0 1141.2,453.6 1147.2,454.3" fill="none" stroke="#1f1a17" stroke-width="1.1" />
<path d="M1119.7,463.0 C1124.3,464.5 1142.6,470.3 1147.2,471.8" fill="none" stroke="#1f1a17" stroke-width="1.1" />
<rect x="1038.6000000000001" y="458.40000000000003" width="8.6" height="2.8" fill="#1f1a17" transform="rotate(15 1042.9 459.8)"/>
<rect x="1050.7" y="462.70000000000005" width="8.6" height="2.8" fill="#1f1a17" transform="rotate(35 1055 464.1)"/>
<rect x="1062.7" y="458.40000000000003" width="8.6" height="2.8" fill="#1f1a17" transform="rotate(0 1067 459.8)"/>
<rect x="1080.3" y="461.6" width="8.6" height="2.8" fill="#1f1a17" transform="rotate(15 1084.6 463)"/>
<rect x="1041.9" y="490.20000000000005" width="8.6" height="2.8" fill="#1f1a17" transform="rotate(5 1046.2 491.6)"/>
<rect x="1060.6000000000001" y="485.8" width="8.6" height="2.8" fill="#1f1a17" transform="rotate(30 1064.9 487.2)"/>
<rect x="1065.0" y="494.6" width="8.6" height="2.8" fill="#1f1a17" transform="rotate(5 1069.3 496)"/>
<rect x="1057.3" y="499.5" width="8.6" height="2.8" fill="#1f1a17" transform="rotate(5 1061.6 500.9)"/>
<rect x="1073.7" y="483.6" width="8.6" height="2.8" fill="#1f1a17" transform="rotate(0 1078 485)"/>
<rect x="1077.0" y="501.1" width="8.6" height="2.8" fill="#1f1a17" transform="rotate(0 1081.3 502.5)"/>
<rect x="1093.5" y="491.3" width="8.6" height="2.8" fill="#1f1a17" transform="rotate(10 1097.8 492.7)"/>
<rect x="1113.2" y="490.20000000000005" width="8.6" height="2.8" fill="#1f1a17" transform="rotate(10 1117.5 491.6)"/>
<rect x="1113.2" y="495.6" width="8.6" height="2.8" fill="#1f1a17" transform="rotate(5 1117.5 497)"/>
<rect x="1131.9" y="494.6" width="8.6" height="2.8" fill="#1f1a17" transform="rotate(10 1136.2 496)"/>
<rect x="1133.0" y="500.1" width="8.6" height="2.8" fill="#1f1a17" transform="rotate(10 1137.3 501.5)"/>
<rect x="1140.7" y="493.5" width="8.6" height="2.8" fill="#1f1a17" transform="rotate(30 1145 494.9)"/>
<rect x="1099.0" y="458.40000000000003" width="8.6" height="2.8" fill="#1f1a17" transform="rotate(25 1103.3 459.8)"/>
<rect x="1025.5" y="488.0" width="8.6" height="2.8" fill="#1f1a17" transform="rotate(15 1029.8 489.4)"/>
<rect x="1038.7" y="496.8" width="8.6" height="2.8" fill="#1f1a17" transform="rotate(5 1043 498.2)"/>
<rect x="1091.7" y="484.1" width="8.6" height="2.8" fill="#1f1a17" transform="rotate(0 1096 485.5)"/>
<rect x="1085.7" y="498.6" width="8.6" height="2.8" fill="#1f1a17" transform="rotate(5 1090 500)"/>
<rect x="1010.7" y="456.6" width="8.6" height="2.8" fill="#1f1a17" transform="rotate(10 1015 458)"/>
<rect x="1125.7" y="457.6" width="8.6" height="2.8" fill="#1f1a17" transform="rotate(20 1130 459)"/>
<rect x="1003.7" y="479.6" width="8.6" height="2.8" fill="#1f1a17" transform="rotate(15 1008 481)"/>
<path d="M1038,461.5 L1049,457.5 L1050,460 L1053,461 L1052,462.5 Z" fill="#1f1a17" stroke="#1f1a17" stroke-width="0.8" transform="rotate(20 1045 460)"/>
<path d="M1097,463.5 L1108,459.5 L1109,462 L1112,463 L1111,464.5 Z" fill="#1f1a17" stroke="#1f1a17" stroke-width="0.8" transform="rotate(30 1104 462)"/>
<path d="M1137,456.5 L1148,452.5 L1149,455 L1152,456 L1151,457.5 Z" fill="#1f1a17" stroke="#1f1a17" stroke-width="0.8" transform="rotate(15 1144 455)"/>
<path d="M1137,485.5 L1148,481.5 L1149,484 L1152,485 L1151,486.5 Z" fill="#1f1a17" stroke="#1f1a17" stroke-width="0.8" transform="rotate(5 1144 484)"/>
<path d="M1082,510.5 L1093,506.5 L1094,509 L1097,510 L1096,511.5 Z" fill="#1f1a17" stroke="#1f1a17" stroke-width="0.8" transform="rotate(12 1089 509)"/>
<path d="M1080.5,480 C1080,475 1090,474 1097,477 C1105,480 1128,480 1130.5,483.5 C1132,487.5 1105,488 1093,486.5 C1084,485.5 1081,483 1080.5,480 Z" fill="#fff200" stroke="#1f1a17" stroke-width="1" />
<path d="M1137.33,471.46 Q1141.14,470.97 1144.80,472.14 Q1147.00,472.33 1145.67,474.10 L1141.07,480.21 Q1140.47,481.00 1139.99,480.13 L1136.19,473.20 Q1135.12,471.26 1137.33,471.46 Z" fill="#fff200" stroke="#1f1a17" stroke-width="1.4" stroke-linejoin="round"/>
<path d="M1117.65,505.30 Q1121.51,504.67 1125.27,505.71 Q1127.40,505.83 1126.12,507.53 L1121.56,513.62 Q1120.98,514.39 1120.49,513.56 L1116.61,507.02 Q1115.52,505.19 1117.65,505.30 Z" fill="#fff200" stroke="#1f1a17" stroke-width="1.4" stroke-linejoin="round"/>
<path d="M1142.02,503.66 Q1143.84,503.32 1145.58,503.94 Q1147.22,504.06 1146.48,505.53 L1144.14,510.14 Q1143.80,510.81 1143.48,510.13 L1141.08,505.02 Q1140.38,503.53 1142.02,503.66 Z" fill="#fff200" stroke="#1f1a17" stroke-width="1.4" stroke-linejoin="round"/>
<path d="M1143.96,458.67 Q1147.10,458.04 1150.14,459.06 Q1152.99,459.24 1151.76,461.82 L1147.55,470.60 Q1147.00,471.76 1146.48,470.59 L1142.27,461.11 Q1141.11,458.49 1143.96,458.67 Z" fill="#1fb3e8" stroke="#1f1a17" stroke-width="1.4" stroke-linejoin="round"/>
<path d="M1127.27,464.10 Q1129.21,463.53 1131.20,463.92 Q1132.71,463.85 1132.13,465.25 L1130.30,469.64 Q1130.04,470.27 1129.64,469.72 L1126.63,465.41 Q1125.76,464.17 1127.27,464.10 Z" fill="#1fb3e8" stroke="#1f1a17" stroke-width="1.4" stroke-linejoin="round"/>
<path d="M1127,518.5 Q1190,514 1252,522 Q1190,528 1127,521.5 Z" fill="#ed1c24" stroke="#1f1a17" stroke-width="1" />
<clipPath id="boxclip"><rect x="1147.7" y="431" width="106.3" height="221.5"/></clipPath>
<g clip-path="url(#boxclip)">
<rect x="1147.7" y="431" width="106.3" height="221.5" fill="#bde5f7"/>
<rect x="1147.7" y="463" width="106.3" height="189.5" fill="#64c5a5"/>
<path d="M711.5,463.7 L711.5,463.7 C717.9,463.6 735.2,463.4 750.0,463.0 C764.8,462.6 781.7,461.8 800.0,461.5 C818.3,461.2 836.7,461.6 860.0,461.2 C883.3,460.8 913.3,460.0 940.0,459.0 C966.7,458.0 995.0,456.2 1020.0,455.4 C1045.0,454.6 1075.0,455.1 1090.0,454.0 C1105.0,452.9 1100.0,449.8 1110.0,449.0 C1120.0,448.2 1135.0,449.6 1150.0,449.4 C1165.0,449.1 1185.0,447.4 1200.0,447.5 C1215.0,447.6 1227.2,448.5 1240.0,450.0 C1252.8,451.5 1270.4,455.6 1276.5,456.7 L1348,458 L1348,592.8 L1348.0,592.8 C1341.0,590.9 1317.5,585.9 1305.8,581.7 C1294.1,577.5 1287.3,572.4 1278.0,567.8 C1268.7,563.2 1259.3,556.9 1250.0,553.9 C1240.7,550.9 1239.2,550.9 1222.0,549.7 C1204.8,548.5 1170.7,547.1 1147.0,546.5 C1123.3,545.9 1104.5,546.8 1080.0,546.0 C1055.5,545.2 1021.7,543.6 1000.0,542.0 C978.3,540.4 966.7,538.0 950.0,536.5 C933.3,535.0 916.7,534.9 900.0,533.0 C883.3,531.1 866.7,529.2 850.0,525.4 C833.3,521.6 816.7,514.9 800.0,510.0 C783.3,505.1 764.8,498.9 750.0,496.0 C735.2,493.1 717.9,492.9 711.5,492.3 Z" fill="#12a897" stroke="none" stroke-width="1" />
<path d="M711.5,492.3 C717.9,492.9 735.2,493.1 750.0,496.0 C764.8,498.9 783.3,505.1 800.0,510.0 C816.7,514.9 833.3,521.6 850.0,525.4 C866.7,529.2 883.3,531.1 900.0,533.0 C916.7,534.9 933.3,535.0 950.0,536.5 C966.7,538.0 978.3,540.4 1000.0,542.0 C1021.7,543.6 1055.5,545.2 1080.0,546.0 C1104.5,546.8 1123.3,545.9 1147.0,546.5 C1170.7,547.1 1204.8,548.5 1222.0,549.7 C1239.2,550.9 1240.7,550.9 1250.0,553.9 C1259.3,556.9 1268.7,563.2 1278.0,567.8 C1287.3,572.4 1294.1,577.5 1305.8,581.7 C1317.5,585.9 1341.0,590.9 1348.0,592.8 L1348,652.6 L1330,652.6 L1330.0,652.6 C1326.0,651.0 1314.5,647.3 1305.8,642.9 C1297.1,638.5 1287.3,631.1 1278.0,626.2 C1268.7,621.3 1263.0,616.8 1250.0,613.7 C1237.0,610.6 1217.2,608.8 1200.0,607.5 C1182.8,606.2 1180.3,606.8 1147.0,606.0 C1113.7,605.2 1032.8,604.2 1000.0,603.0 C967.2,601.8 966.7,600.1 950.0,598.6 C933.3,597.1 916.7,595.9 900.0,594.0 C883.3,592.1 866.7,590.5 850.0,587.0 C833.3,583.5 816.7,577.9 800.0,573.0 C783.3,568.1 764.8,561.1 750.0,557.6 C735.2,554.1 717.9,552.9 711.5,552.0 Z" fill="#0b8774" stroke="#1f1a17" stroke-width="1.5" />
<path d="M1330.0,652.6 C1326.0,651.0 1314.5,647.3 1305.8,642.9 C1297.1,638.5 1287.3,631.1 1278.0,626.2 C1268.7,621.3 1263.0,616.8 1250.0,613.7 C1237.0,610.6 1217.2,608.8 1200.0,607.5 C1182.8,606.2 1180.3,606.8 1147.0,606.0 C1113.7,605.2 1032.8,604.2 1000.0,603.0 C967.2,601.8 966.7,600.1 950.0,598.6 C933.3,597.1 916.7,595.9 900.0,594.0 C883.3,592.1 866.7,590.5 850.0,587.0 C833.3,583.5 816.7,577.9 800.0,573.0 C783.3,568.1 764.8,561.1 750.0,557.6 C735.2,554.1 717.9,552.9 711.5,552.0" fill="none" stroke="#1f1a17" stroke-width="1.5" />
<path d="M711.5,463.7 C717.9,463.6 735.2,463.4 750.0,463.0 C764.8,462.6 781.7,461.8 800.0,461.5 C818.3,461.2 836.7,461.6 860.0,461.2 C883.3,460.8 913.3,460.0 940.0,459.0 C966.7,458.0 995.0,456.2 1020.0,455.4 C1045.0,454.6 1075.0,455.1 1090.0,454.0 C1105.0,452.9 1100.0,449.8 1110.0,449.0 C1120.0,448.2 1135.0,449.6 1150.0,449.4 C1165.0,449.1 1185.0,447.4 1200.0,447.5 C1215.0,447.6 1227.2,448.5 1240.0,450.0 C1252.8,451.5 1270.4,455.6 1276.5,456.7 L1276.5,456.7 C1266,470 1256,495 1253.5,522.4 L1253.5,522.4 C1236.2,522.2 1171.2,521.8 1150.0,521.4 C1128.8,521.0 1137.6,521.1 1126.3,519.7 C1115.0,518.4 1096.8,516.1 1082.4,513.3 C1068.0,510.5 1051.2,506.1 1040.0,503.1 C1028.8,500.1 1023.8,498.2 1015.3,495.3 C1006.8,492.4 997.2,488.4 989.3,485.8 C981.4,483.2 974.9,480.5 967.7,479.7 C960.5,478.9 952.5,480.5 946.0,481.0 C939.5,481.5 935.2,482.0 928.7,482.8 C922.2,483.6 914.5,484.7 907.0,485.8 C899.5,486.9 893.2,487.9 884.0,489.3 C874.8,490.7 857.0,493.5 851.6,494.3 L851.6,494.3 C845.5,492.3 826.6,486.1 814.7,482.3 C802.8,478.5 790.8,474.1 780.0,471.4 C769.2,468.7 761.4,467.3 750.0,466.0 C738.6,464.7 717.9,464.1 711.5,463.7 Z" fill="#cdbfb5" stroke="#1f1a17" stroke-width="1.5" />
</g>
<path d="M1147.7,518 Q1200,516 1252,522 Q1200,528 1147.7,522 Z" fill="#d46a55" stroke="#1f1a17" stroke-width="1" />
<path d="M1143.96,458.67 Q1147.10,458.04 1150.14,459.06 Q1152.99,459.24 1151.76,461.82 L1147.55,470.60 Q1147.00,471.76 1146.48,470.59 L1142.27,461.11 Q1141.11,458.49 1143.96,458.67 Z" fill="#1fb3e8" stroke="#1f1a17" stroke-width="1.4" stroke-linejoin="round"/>
<path d="M1147.0,465.0 C1152.5,464.5 1169.5,463.2 1180.0,462.0 C1190.5,460.8 1200.0,458.8 1210.0,458.0 C1220.0,457.2 1232.7,456.8 1240.0,457.0 C1247.3,457.2 1251.7,458.7 1254.0,459.0" fill="none" stroke="#3a3a3a" stroke-width="1" />
<path d="M1147.0,470.0 C1151.7,470.0 1166.2,470.7 1175.0,470.0 C1183.8,469.3 1190.8,467.7 1200.0,466.0 C1209.2,464.3 1221.0,461.3 1230.0,460.0 C1239.0,458.7 1250.0,458.3 1254.0,458.0" fill="none" stroke="#3a3a3a" stroke-width="1" />
<path d="M1147.0,459.0 C1150.8,458.8 1162.8,457.0 1170.0,458.0 C1177.2,459.0 1183.3,463.0 1190.0,465.0 C1196.7,467.0 1201.7,469.5 1210.0,470.0 C1218.3,470.5 1231.3,469.3 1240.0,468.0 C1248.7,466.7 1258.3,463.0 1262.0,462.0" fill="none" stroke="#3a3a3a" stroke-width="1" />
<path d="M1147.0,478.0 C1154.2,478.3 1176.2,478.7 1190.0,480.0 C1203.8,481.3 1219.3,484.3 1230.0,486.0 C1240.7,487.7 1250.0,489.3 1254.0,490.0" fill="none" stroke="#3a3a3a" stroke-width="1" />
<path d="M1147.0,490.0 C1155.8,490.3 1182.2,490.3 1200.0,492.0 C1217.8,493.7 1245.0,498.7 1254.0,500.0" fill="none" stroke="#3a3a3a" stroke-width="1" />
<rect x="1155.5" y="490.7" width="9" height="2.6" fill="#475a78" transform="rotate(10 1160 492)"/>
<rect x="1170.5" y="493.7" width="9" height="2.6" fill="#475a78" transform="rotate(0 1175 495)"/>
<rect x="1190.5" y="495.7" width="9" height="2.6" fill="#475a78" transform="rotate(0 1195 497)"/>
<rect x="1210.5" y="493.7" width="9" height="2.6" fill="#475a78" transform="rotate(10 1215 495)"/>
<rect x="1230.5" y="495.7" width="9" height="2.6" fill="#475a78" transform="rotate(20 1235 497)"/>
<rect x="1195.5" y="504.7" width="9" height="2.6" fill="#475a78" transform="rotate(-15 1200 506)"/>
<rect x="1155.5" y="501.7" width="9" height="2.6" fill="#475a78" transform="rotate(10 1160 503)"/>
<rect x="1220.5" y="505.7" width="9" height="2.6" fill="#475a78" transform="rotate(0 1225 507)"/>
<rect x="1175.5" y="484.7" width="9" height="2.6" fill="#475a78" transform="rotate(0 1180 486)"/>
<rect x="1240.5" y="483.7" width="9" height="2.6" fill="#475a78" transform="rotate(0 1245 485)"/>
<path d="M1166,481 C1170,476 1195,477 1215,482 C1228,486 1226,490 1215,489 C1195,488 1168,488 1166,481 Z" fill="#cdb55a" stroke="#1f1a17" stroke-width="1" />
<path d="M1179,472 C1195,469 1230,472 1247,483 C1235,481 1200,477 1179,472 Z" fill="#cdb55a" stroke="#1f1a17" stroke-width="1" />
<path d="M1175.87,456.35 Q1181.34,455.44 1186.74,456.72 Q1189.12,456.80 1187.58,458.62 L1181.68,465.61 Q1180.99,466.43 1180.35,465.57 L1174.91,458.18 Q1173.50,456.27 1175.87,456.35 Z" fill="#d9664f" stroke="#1f1a17" stroke-width="1.4" stroke-linejoin="round"/>
<path d="M1160.68,471.37 Q1164.80,470.65 1168.86,471.72 Q1171.13,471.81 1169.73,473.61 L1164.60,480.20 Q1163.96,481.01 1163.46,480.12 L1159.53,473.26 Q1158.40,471.28 1160.68,471.37 Z" fill="#d9664f" stroke="#1f1a17" stroke-width="1.4" stroke-linejoin="round"/>
<path d="M1231.10,484.27 Q1240.34,482.75 1249.52,484.67 Q1252.61,484.74 1250.42,486.93 L1240.97,496.38 Q1239.99,497.36 1239.05,496.33 L1230.09,486.49 Q1228.00,484.20 1231.10,484.27 Z" fill="#d9664f" stroke="#1f1a17" stroke-width="1.4" stroke-linejoin="round"/>
<path d="M1192.39,500.36 Q1196.34,499.62 1200.22,500.69 Q1202.73,500.79 1201.34,502.88 L1196.61,510.02 Q1195.99,510.95 1195.43,509.98 L1191.13,502.43 Q1189.89,500.25 1192.39,500.36 Z" fill="#d9664f" stroke="#1f1a17" stroke-width="1.4" stroke-linejoin="round"/>
<path d="M1231.63,465.31 Q1239.45,464.04 1247.19,465.70 Q1249.90,465.77 1247.99,467.70 L1239.84,475.93 Q1238.98,476.79 1238.18,475.87 L1230.70,467.28 Q1228.92,465.24 1231.63,465.31 Z" fill="#1993b0" stroke="#1f1a17" stroke-width="1.4" stroke-linejoin="round"/>
<path d="M1250.24,461.96 Q1254.02,461.47 1257.66,462.63 Q1259.89,462.83 1258.64,464.69 L1254.56,470.77 Q1254.00,471.61 1253.48,470.75 L1249.17,463.67 Q1248.01,461.76 1250.24,461.96 Z" fill="#fff200" stroke="#1f1a17" stroke-width="1.4" stroke-linejoin="round"/>
<path d="M1262.97,455.93 Q1266.79,455.26 1270.46,456.51 Q1273.56,456.75 1271.94,459.41 L1266.70,467.97 Q1265.97,469.16 1265.39,467.89 L1261.15,458.52 Q1259.87,455.68 1262.97,455.93 Z" fill="#1fb3e8" stroke="#1f1a17" stroke-width="1.4" stroke-linejoin="round"/>
<path d="M1172.5,513 C1171.0,508.05 1169.75,503.0 1171.75,502 Q1172.5,500.75 1173.5,502.2 C1175.25,503.25 1174.0,508.05 1172.5,513 Z" fill="#cdb55a" stroke="#1f1a17" stroke-width="1" />
<rect x="1147.7" y="431" width="106.3" height="221.5" fill="none" stroke="#a9aba6" stroke-width="2.2"/>
<path d="M1085.1,515.5 C1079.1,519.5 1081.1,524.5 1087.1,523.5 C1093.1,523.5 1089.1,530.5 1082.1,531.5" fill="none" stroke="#475a78" stroke-width="2.4" stroke-linecap="round"/>
<path d="M1085.1,510.5 L1088.8999999999999,518.5 L1085.1,517.0 L1081.3,518.5 Z" fill="#475a78" stroke="#475a78" stroke-width="1" />
<path d="M1136.4,517.2 C1130.4,521.2 1132.4,526.2 1138.4,525.2 C1144.4,525.2 1140.4,532.2 1133.4,533.2" fill="none" stroke="#475a78" stroke-width="2.4" stroke-linecap="round"/>
<path d="M1136.4,512.2 L1140.2,520.2 L1136.4,518.7 L1132.6000000000001,520.2 Z" fill="#475a78" stroke="#475a78" stroke-width="1" />
<path d="M1184.7,516.3 C1178.7,520.3 1180.7,525.3 1186.7,524.3 C1192.7,524.3 1188.7,531.3 1181.7,532.3" fill="none" stroke="#475a78" stroke-width="2.4" stroke-linecap="round"/>
<path d="M1184.7,511.3 L1188.5,519.3 L1184.7,517.8 L1180.9,519.3 Z" fill="#475a78" stroke="#475a78" stroke-width="1" />
<path d="M1242.4,527.4 C1236.4,531.4 1238.4,536.4 1244.4,535.4 C1250.4,535.4 1246.4,542.4 1239.4,543.4" fill="none" stroke="#475a78" stroke-width="2.4" stroke-linecap="round"/>
<path d="M1242.4,522.4 L1246.2,530.4 L1242.4,528.9 L1238.6000000000001,530.4 Z" fill="#475a78" stroke="#475a78" stroke-width="1" />
<path d="M1279.6,538.5 C1273.6,542.5 1275.6,547.5 1281.6,546.5 C1287.6,546.5 1283.6,553.5 1276.6,554.5" fill="none" stroke="#475a78" stroke-width="2.4" stroke-linecap="round"/>
<path d="M1279.6,533.5 L1283.3999999999999,541.5 L1279.6,540.0 L1275.8,541.5 Z" fill="#475a78" stroke="#475a78" stroke-width="1" />
<path d="M1332.2,563 C1326.2,567.0 1328.2,572.0 1334.2,571.0 C1340.2,571.0 1336.2,578.0 1329.2,579.0" fill="none" stroke="#475a78" stroke-width="2.4" stroke-linecap="round"/>
<path d="M1332.2,558 L1336.0,566.0 L1332.2,564.5 L1328.4,566.0 Z" fill="#475a78" stroke="#475a78" stroke-width="1" />
<path d="M733.7,517.0 C742.1,518.9 768.8,524.0 784.2,528.2 C799.6,532.4 813.9,538.7 826.2,542.2 C838.5,545.8 852.7,548.3 858.0,549.5" fill="none" stroke="#fff" stroke-width="3" />
<path d="M866,551.5 L853.5,554.5 L857.5,550 L855,545 Z" fill="#fff" stroke="#fff" stroke-width="1.5" />
<path d="M1149.0,574.6 C1161.2,574.9 1205.1,575.4 1222.5,576.4 C1239.9,577.4 1243.6,578.0 1253.2,580.6 C1262.8,583.2 1271.4,588.0 1280.0,591.7 C1288.6,595.4 1300.8,601.1 1305.0,603.0" fill="none" stroke="#d6f2fb" stroke-width="3" />
<path d="M1254.0,580.8 C1258.3,582.6 1271.5,588.0 1280.0,591.7 C1288.5,595.4 1300.8,601.1 1305.0,603.0" fill="none" stroke="#fff" stroke-width="3" />
<path d="M1313,606.5 L1300.5,607.5 L1304.5,603 L1302.5,598 Z" fill="#fff" stroke="#fff" stroke-width="1.5" />
<g transform="translate(797,522.5) rotate(14.7)">
<text x="0.0" y="5.0" font-size="15" text-anchor="middle" fill="#fff" font-weight="normal"  >~100 mm yr<tspan dy="-5" font-size="10">−1</tspan></text>
</g>
<g transform="translate(794.6,555) rotate(16)">
<text x="0.0" y="5.0" font-size="15.5" text-anchor="middle" fill="#fff" font-weight="normal" textLength="91.8" lengthAdjust="spacingAndGlyphs" >Farallon plate</text>
</g>
<text x="965.0" y="538.6" font-size="15.3" text-anchor="start" fill="#333333" font-weight="normal" textLength="105.4" lengthAdjust="spacingAndGlyphs" >Hess conjugate</text>
<text x="881.5" y="572.3" font-size="15.5" text-anchor="start" fill="#fff" font-weight="normal" textLength="254.2" lengthAdjust="spacingAndGlyphs" >Flat-slab subduction and dehydration</text>
<text x="945.9" y="589.8" font-size="15.5" text-anchor="start" fill="#fff" font-weight="normal" textLength="125.8" lengthAdjust="spacingAndGlyphs" >~60–100 km depth</text>
<text x="916.6" y="628.5" font-size="15.3" text-anchor="start" fill="#333333" font-weight="normal" textLength="102.5" lengthAdjust="spacingAndGlyphs" >Asthenosphere</text>
<text x="1165.8" y="600.6" font-size="14.5" text-anchor="start" fill="#fff" font-weight="normal" textLength="75.1" lengthAdjust="spacingAndGlyphs" >Sweet spot</text>
<text x="1191.0" y="540.0" font-size="15" text-anchor="start" fill="#333333" font-weight="normal"  >+H<tspan dy="3" font-size="10">2</tspan><tspan dy="-3">O</tspan></text>
<text x="1313.2" y="472.9" font-size="15" text-anchor="middle" fill="#333333" font-weight="normal" textLength="61.5" lengthAdjust="spacingAndGlyphs" >Colorado</text>
<text x="1313.2" y="490.8" font-size="15" text-anchor="middle" fill="#333333" font-weight="normal" textLength="49.5" lengthAdjust="spacingAndGlyphs" >Plateau</text>
<text x="1313.2" y="508.8" font-size="15" text-anchor="middle" fill="#333333" font-weight="normal" textLength="53.8" lengthAdjust="spacingAndGlyphs" >(craton)</text>
<text x="1315.4" y="531.8" font-size="15" text-anchor="middle" fill="#fff" font-weight="normal" textLength="57.2" lengthAdjust="spacingAndGlyphs" >Cratonic</text>
<text x="1315.4" y="548.9" font-size="15" text-anchor="middle" fill="#fff" font-weight="normal" textLength="38.4" lengthAdjust="spacingAndGlyphs" >SCLM</text>
<circle cx="1023.6" cy="505.4" r="6.8" fill="#fff" stroke="#1f1a17" stroke-width="1.1"/>
<text x="1023.6" y="509.2" font-size="10.5" text-anchor="middle" fill="#333333" font-weight="normal"  >1</text>
<circle cx="1065.5" cy="474.6" r="6.8" fill="#fff" stroke="#1f1a17" stroke-width="1.1"/>
<text x="1065.5" y="478.4" font-size="10.5" text-anchor="middle" fill="#333333" font-weight="normal"  >2</text>
<circle cx="1104.3" cy="499.9" r="6.8" fill="#fff" stroke="#1f1a17" stroke-width="1.1"/>
<text x="1104.3" y="503.7" font-size="10.5" text-anchor="middle" fill="#333333" font-weight="normal"  >3</text>
<circle cx="1100.2" cy="475.5" r="6.8" fill="#fff" stroke="#1f1a17" stroke-width="1.1"/>
<text x="1100.2" y="479.3" font-size="10.5" text-anchor="middle" fill="#333333" font-weight="normal"  >4</text>
<circle cx="1106.5" cy="447" r="6.8" fill="#fff" stroke="#1f1a17" stroke-width="1.1"/>
<text x="1106.5" y="450.8" font-size="10.5" text-anchor="middle" fill="#333333" font-weight="normal"  >5</text>
<circle cx="1121.9" cy="469.5" r="6.8" fill="#fff" stroke="#1f1a17" stroke-width="1.1"/>
<text x="1121.9" y="473.3" font-size="10.5" text-anchor="middle" fill="#333333" font-weight="normal"  >6</text>
<circle cx="926" cy="543" r="6.8" fill="#fff" stroke="#1f1a17" stroke-width="1.1"/>
<text x="926.0" y="546.8" font-size="10.5" text-anchor="middle" fill="#333333" font-weight="normal"  >iii</text>
<circle cx="1109.8" cy="553.9" r="6.8" fill="#fff" stroke="#1f1a17" stroke-width="1.1"/>
<text x="1109.8" y="557.7" font-size="10.5" text-anchor="middle" fill="#333333" font-weight="normal"  >ii</text>
<circle cx="1318.3" cy="597" r="6.8" fill="#fff" stroke="#1f1a17" stroke-width="1.1"/>
<text x="1318.3" y="600.8" font-size="10.5" text-anchor="middle" fill="#333333" font-weight="normal"  >i</text>
<circle cx="1165.3" cy="439.6" r="6.8" fill="none" stroke="#2a4a55" stroke-width="1.1"/>
<text x="1165.3" y="443.4" font-size="10.5" text-anchor="middle" fill="#2a4a55" font-weight="normal"  >7</text>
<circle cx="1228.4" cy="437.9" r="6.8" fill="none" stroke="#2a4a55" stroke-width="1.1"/>
<text x="1228.4" y="441.7" font-size="10.5" text-anchor="middle" fill="#2a4a55" font-weight="normal"  >8</text>
<circle cx="1216" cy="479.7" r="6.8" fill="#d8f0f8" stroke="#2a4a55" stroke-width="1.1"/>
<text x="1216.0" y="483.5" font-size="10.5" text-anchor="middle" fill="#2a4a55" font-weight="normal"  >9</text>
<circle cx="1237.3" cy="505" r="6.8" fill="#d8f0f8" stroke="#2a4a55" stroke-width="1.1"/>
<text x="1237.3" y="508.8" font-size="10" text-anchor="middle" fill="#2a4a55" font-weight="normal"  >10</text>
<circle cx="1157" cy="521.6" r="6.8" fill="#d8f0f8" stroke="#2a4a55" stroke-width="1.1"/>
<text x="1157.0" y="525.4" font-size="10" text-anchor="middle" fill="#2a4a55" font-weight="normal"  >11</text>
<circle cx="1216.8" cy="523.3" r="6.8" fill="#d8f0f8" stroke="#2a4a55" stroke-width="1.1"/>
<text x="1216.8" y="527.1" font-size="10" text-anchor="middle" fill="#2a4a55" font-weight="normal"  >12</text>
<path d="M712.3,737.5 Q720.3,733.5 728.3,737.5 Q725.9,745 720.8,752.0 Q714.6999999999999,745 712.3,737.5 Z" fill="#ed1c24" stroke="#1f1a17" stroke-width="1.8" stroke-linejoin="round"/>
<text x="738.0" y="751.7" font-size="14.3" text-anchor="start" fill="#333333" font-weight="normal" textLength="157.0" lengthAdjust="spacingAndGlyphs" >Bt ± Hb granite/magma</text>
<path d="M712.3,761.1 Q720.3,757.1 728.3,761.1 Q725.9,768.6 720.8,775.6 Q714.6999999999999,768.6 712.3,761.1 Z" fill="#fff200" stroke="#1f1a17" stroke-width="1.8" stroke-linejoin="round"/>
<text x="738.0" y="775.0" font-size="14.3" text-anchor="start" fill="#333333" font-weight="normal" textLength="163.0" lengthAdjust="spacingAndGlyphs" >Ms ± Grt granite/magma</text>
<path d="M712.3,784.5 Q720.3,780.5 728.3,784.5 Q725.9,792 720.8,799.0 Q714.6999999999999,792 712.3,784.5 Z" fill="#1fb3e8" stroke="#1f1a17" stroke-width="1.8" stroke-linejoin="round"/>
<text x="738.0" y="799.0" font-size="14.3" text-anchor="start" fill="#333333" font-weight="normal" textLength="28.5" lengthAdjust="spacingAndGlyphs" >PCD</text>
<path d="M973.5,738.5 C970.0,736 971.5,728.2 977.15,727.2 C979.475,722.08 981.8,722.08 984.125,724.64 C986.45,727.52 988.775,727.52 991.1,725.92 C994.975,722.08 997.3,722.08 999.625,724.64 C1001.95,727.52 1004.275,727.52 1006.6,725.92 C1010.475,722.08 1012.8,722.08 1015.125,724.64 C1017.45,727.52 1019.775,727.52 1022.1,725.92 C1022,730.4 1023,738 1018,739 C1014.35,742 1009.7,741.5 1007.375,739.5 S1004.275,737 1003.5,738.5 C998.85,742 994.2,741.5 991.875,739.5 S988.775,737 988.0,738.5 C983.35,742 978.7,741.5 976.375,739.5 S973.275,737 972.5,738.5 Z" fill="#fff" stroke="#1f1a17" stroke-width="1.1" />
<text x="1032.0" y="733.5" font-size="14.3" text-anchor="start" fill="#333333" font-weight="normal" textLength="24.5" lengthAdjust="spacingAndGlyphs" >Key</text>
<path d="M973.5,743 L982.5,758 L964.5,758 Z" fill="#7b5230" stroke="#1f1a17" stroke-width="0.9" stroke-linejoin="round"/>
<text x="994.5" y="756.8" font-size="14.3" text-anchor="start" fill="#333333" font-weight="normal" textLength="103.0" lengthAdjust="spacingAndGlyphs" >Active Volcano</text>
<path d="M973.5,767 L980.0,777.7 L967.0,777.7 Z" fill="#7b5230" stroke="#1f1a17" stroke-width="0.9" stroke-linejoin="round"/>
<text x="994.5" y="779.5" font-size="14.3" text-anchor="start" fill="#333333" font-weight="normal" textLength="105.5" lengthAdjust="spacingAndGlyphs" >Extinct Volcano</text>
<circle cx="973.5" cy="796" r="10.5" fill="#fff" stroke="#1f1a17" stroke-width="1.3"/>
<text x="973.5" y="801.0" font-size="14" text-anchor="middle" fill="#333333" font-weight="normal"  >i</text>
<text x="994.5" y="803.5" font-size="14.3" text-anchor="start" fill="#333333" font-weight="normal" textLength="107.0" lengthAdjust="spacingAndGlyphs" >Particle position</text>
<path d="M1152,757 L1173,748 L1177,752 L1198,753 L1198,757 Z" fill="#1f1a17" stroke="none" stroke-width="1" />
<text x="1203.0" y="757.0" font-size="14.3" text-anchor="start" fill="#333333" font-weight="normal" textLength="77.0" lengthAdjust="spacingAndGlyphs" >Thrust fault</text>
<rect x="1158" y="764.6" width="145.4" height="44.8" fill="#bde5f7" stroke="#b3b5b3" stroke-width="2.4"/>
<text x="1230.7" y="783.0" font-size="14.3" text-anchor="middle" fill="#333333" font-weight="normal" textLength="108.0" lengthAdjust="spacingAndGlyphs" >Geodynamic Cu</text>
<text x="1230.7" y="800.0" font-size="14.3" text-anchor="middle" fill="#333333" font-weight="normal" textLength="73.0" lengthAdjust="spacingAndGlyphs" >sweet spot</text>
</svg></body></html>
